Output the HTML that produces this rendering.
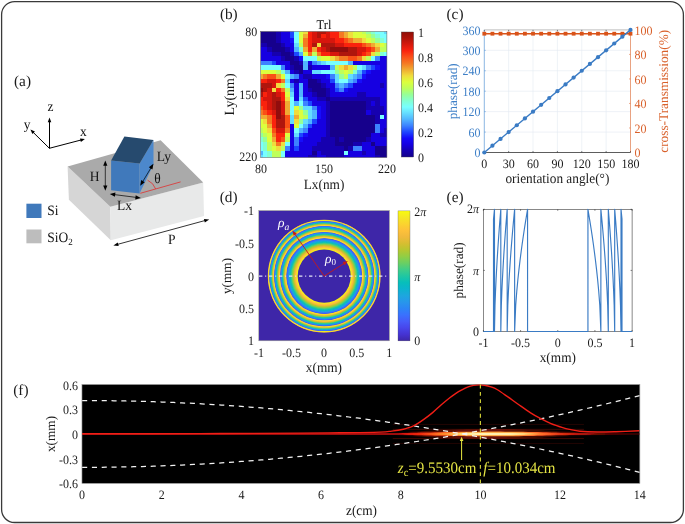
<!DOCTYPE html><html><head><meta charset="utf-8"><style>html,body{margin:0;padding:0;background:#fff;}svg{display:block;}</style></head><body>
<svg width="685" height="524" viewBox="0 0 685 524" font-family="'Liberation Serif', serif" text-rendering="geometricPrecision" style="will-change:transform">
<defs>
<clipPath id="hm"><rect x="260.7" y="31.5" width="126.20" height="126.10"/></clipPath>
<filter id="rblur" x="-5%" y="-5%" width="110%" height="110%"><feGaussianBlur stdDeviation="0.4"/></filter>
<filter id="hblur" x="-5%" y="-5%" width="110%" height="110%"><feGaussianBlur stdDeviation="0.45"/></filter>
<linearGradient id="jetg" x1="0" y1="1" x2="0" y2="0">
<stop offset="0.000" stop-color="#14008c"/>
<stop offset="0.050" stop-color="#1400af"/>
<stop offset="0.100" stop-color="#1400e1"/>
<stop offset="0.150" stop-color="#140afa"/>
<stop offset="0.200" stop-color="#1e46ff"/>
<stop offset="0.250" stop-color="#3c82ff"/>
<stop offset="0.300" stop-color="#50b4ff"/>
<stop offset="0.350" stop-color="#64dcff"/>
<stop offset="0.400" stop-color="#78ffff"/>
<stop offset="0.450" stop-color="#82ffd2"/>
<stop offset="0.500" stop-color="#96ff96"/>
<stop offset="0.550" stop-color="#beff5a"/>
<stop offset="0.600" stop-color="#dcff3c"/>
<stop offset="0.650" stop-color="#f0dc3c"/>
<stop offset="0.700" stop-color="#f0aa32"/>
<stop offset="0.750" stop-color="#f57823"/>
<stop offset="0.800" stop-color="#fa5019"/>
<stop offset="0.850" stop-color="#fa230f"/>
<stop offset="0.900" stop-color="#d7190c"/>
<stop offset="0.950" stop-color="#af140a"/>
<stop offset="1.000" stop-color="#910f08"/>
</linearGradient>
<linearGradient id="parg" x1="0" y1="1" x2="0" y2="0">
<stop offset="0.000" stop-color="#3e26a8"/>
<stop offset="0.025" stop-color="#412dbd"/>
<stop offset="0.050" stop-color="#4533d2"/>
<stop offset="0.075" stop-color="#463cde"/>
<stop offset="0.100" stop-color="#4846eb"/>
<stop offset="0.125" stop-color="#4750f2"/>
<stop offset="0.150" stop-color="#465bf9"/>
<stop offset="0.175" stop-color="#4066fb"/>
<stop offset="0.200" stop-color="#3a71fe"/>
<stop offset="0.225" stop-color="#337bfa"/>
<stop offset="0.250" stop-color="#2c85f5"/>
<stop offset="0.275" stop-color="#2a8ef0"/>
<stop offset="0.300" stop-color="#2797eb"/>
<stop offset="0.325" stop-color="#229fe5"/>
<stop offset="0.350" stop-color="#1da7de"/>
<stop offset="0.375" stop-color="#15add6"/>
<stop offset="0.400" stop-color="#0cb4ce"/>
<stop offset="0.425" stop-color="#09b9c4"/>
<stop offset="0.450" stop-color="#07bfba"/>
<stop offset="0.475" stop-color="#14c3ae"/>
<stop offset="0.500" stop-color="#21c7a1"/>
<stop offset="0.525" stop-color="#31ca94"/>
<stop offset="0.550" stop-color="#41cd87"/>
<stop offset="0.575" stop-color="#56ce75"/>
<stop offset="0.600" stop-color="#6bcf62"/>
<stop offset="0.625" stop-color="#7ecf53"/>
<stop offset="0.650" stop-color="#92ce44"/>
<stop offset="0.675" stop-color="#a4ca3a"/>
<stop offset="0.700" stop-color="#b7c730"/>
<stop offset="0.725" stop-color="#c7c230"/>
<stop offset="0.750" stop-color="#d7be31"/>
<stop offset="0.775" stop-color="#e4bc36"/>
<stop offset="0.800" stop-color="#f0b93c"/>
<stop offset="0.825" stop-color="#f7bd3b"/>
<stop offset="0.850" stop-color="#fec13a"/>
<stop offset="0.875" stop-color="#fcca34"/>
<stop offset="0.900" stop-color="#fbd42e"/>
<stop offset="0.925" stop-color="#f8dd2a"/>
<stop offset="0.950" stop-color="#f5e725"/>
<stop offset="0.975" stop-color="#f7f119"/>
<stop offset="1.000" stop-color="#f9fb0e"/>
</linearGradient>
<radialGradient id="ring" gradientUnits="userSpaceOnUse" cx="324.2" cy="276.1" r="56.4" fx="324.2" fy="276.1">
<stop offset="0.4706" stop-color="#3e26a8"/>
<stop offset="0.4711" stop-color="#f7ef1c"/>
<stop offset="0.5003" stop-color="#fdc537"/>
<stop offset="0.5283" stop-color="#d8be31"/>
<stop offset="0.5548" stop-color="#8dce48"/>
<stop offset="0.5802" stop-color="#38cb8f"/>
<stop offset="0.6044" stop-color="#09bac4"/>
<stop offset="0.6278" stop-color="#249ce7"/>
<stop offset="0.6502" stop-color="#3875fc"/>
<stop offset="0.6716" stop-color="#4846eb"/>
<stop offset="0.6723" stop-color="#f7ef1c"/>
<stop offset="0.6869" stop-color="#fdc537"/>
<stop offset="0.7016" stop-color="#d8be31"/>
<stop offset="0.7159" stop-color="#8dce48"/>
<stop offset="0.7300" stop-color="#38cb8f"/>
<stop offset="0.7438" stop-color="#09bac4"/>
<stop offset="0.7573" stop-color="#249ce7"/>
<stop offset="0.7706" stop-color="#3875fc"/>
<stop offset="0.7833" stop-color="#4846eb"/>
<stop offset="0.7840" stop-color="#f7ef1c"/>
<stop offset="0.7975" stop-color="#fdc537"/>
<stop offset="0.8111" stop-color="#d8be31"/>
<stop offset="0.8245" stop-color="#8dce48"/>
<stop offset="0.8376" stop-color="#38cb8f"/>
<stop offset="0.8506" stop-color="#09bac4"/>
<stop offset="0.8633" stop-color="#249ce7"/>
<stop offset="0.8759" stop-color="#3875fc"/>
<stop offset="0.8879" stop-color="#4846eb"/>
<stop offset="0.8887" stop-color="#f7ef1c"/>
<stop offset="0.8996" stop-color="#fdc537"/>
<stop offset="0.9108" stop-color="#d8be31"/>
<stop offset="0.9218" stop-color="#8dce48"/>
<stop offset="0.9327" stop-color="#38cb8f"/>
<stop offset="0.9435" stop-color="#09bac4"/>
<stop offset="0.9542" stop-color="#249ce7"/>
<stop offset="0.9647" stop-color="#3875fc"/>
<stop offset="0.9748" stop-color="#4846eb"/>
<stop offset="0.9761" stop-color="#f7f317"/>
<stop offset="1" stop-color="#fec13a"/>
</radialGradient>
<linearGradient id="beamcore" gradientUnits="userSpaceOnUse" x1="82.1" y1="0" x2="639.7" y2="0"><stop offset="0.0000" stop-color="#c00a0a" stop-opacity="1"/><stop offset="0.5701" stop-color="#d01010" stop-opacity="1"/><stop offset="0.6060" stop-color="#f02810" stop-opacity="1"/><stop offset="0.6508" stop-color="#ff5a1c" stop-opacity="1"/><stop offset="0.6957" stop-color="#ff8a30" stop-opacity="1"/><stop offset="0.7764" stop-color="#ff8a30" stop-opacity="1"/><stop offset="0.8302" stop-color="#ff5020" stop-opacity="1"/><stop offset="0.8840" stop-color="#c01808" stop-opacity="1"/><stop offset="0.9467" stop-color="#600606" stop-opacity="1"/><stop offset="1.0000" stop-color="#400000" stop-opacity="1"/></linearGradient>
<linearGradient id="beamglow" gradientUnits="userSpaceOnUse" x1="82.1" y1="0" x2="639.7" y2="0"><stop offset="0.5612" stop-color="#ff1000" stop-opacity="0.0"/><stop offset="0.6150" stop-color="#d01808" stop-opacity="0.35"/><stop offset="0.6777" stop-color="#e02810" stop-opacity="0.45"/><stop offset="0.7495" stop-color="#e02810" stop-opacity="0.45"/><stop offset="0.8302" stop-color="#b01808" stop-opacity="0.35"/><stop offset="0.8929" stop-color="#800808" stop-opacity="0.2"/><stop offset="0.9467" stop-color="#600000" stop-opacity="0.0"/></linearGradient>
<linearGradient id="beamglow2" gradientUnits="userSpaceOnUse" x1="82.1" y1="0" x2="639.7" y2="0"><stop offset="0.6060" stop-color="#ff5010" stop-opacity="0.0"/><stop offset="0.6419" stop-color="#ff8a28" stop-opacity="0.8"/><stop offset="0.6777" stop-color="#ffc048" stop-opacity="1"/><stop offset="0.7046" stop-color="#ffd870" stop-opacity="1"/><stop offset="0.7674" stop-color="#ffd060" stop-opacity="1"/><stop offset="0.8033" stop-color="#ffa040" stop-opacity="0.9"/><stop offset="0.8571" stop-color="#ff6020" stop-opacity="0.0"/></linearGradient>
<linearGradient id="beamglow3" gradientUnits="userSpaceOnUse" x1="82.1" y1="0" x2="639.7" y2="0"><stop offset="0.6508" stop-color="#ffe080" stop-opacity="0.0"/><stop offset="0.6867" stop-color="#fff0a0" stop-opacity="0.9"/><stop offset="0.7136" stop-color="#fffbd0" stop-opacity="1"/><stop offset="0.7674" stop-color="#fff6c0" stop-opacity="1"/><stop offset="0.7943" stop-color="#ffe890" stop-opacity="0.8"/><stop offset="0.8212" stop-color="#ffd060" stop-opacity="0.0"/></linearGradient>
<marker id="ah" viewBox="0 0 10 10" refX="9" refY="5" markerWidth="5" markerHeight="5" orient="auto-start-reverse"><path d="M0,1 L10,5 L0,9 z" fill="#000"/></marker>
<marker id="ahr" viewBox="0 0 10 10" refX="9" refY="5" markerWidth="5" markerHeight="5" orient="auto"><path d="M0,1 L10,5 L0,9 z" fill="#c01818"/></marker>
</defs>
<rect x="1.6" y="1.6" width="681.8" height="520.9" rx="13" ry="13" fill="#fff" stroke="#3a3a3a" stroke-width="1.3"/>
<text transform="translate(14.00,85.80) scale(1,1.0)" font-size="15.3" text-anchor="start" fill="#1a1a1a" >(a)</text>
<line x1="49.50" y1="148.30" x2="49.50" y2="121.28" stroke="#000" stroke-width="1.0"/>
<path d="M49.50,117.60 L51.30,122.20 L47.70,122.20 Z" fill="#000"/>
<line x1="49.30" y1="148.30" x2="81.34" y2="139.93" stroke="#000" stroke-width="1.0"/>
<path d="M84.90,139.00 L80.90,141.90 L79.99,138.42 Z" fill="#000"/>
<line x1="49.40" y1="148.30" x2="33.02" y2="132.18" stroke="#000" stroke-width="1.0"/>
<path d="M30.40,129.60 L34.94,131.54 L32.42,134.11 Z" fill="#000"/>
<text transform="translate(50.60,111.40) scale(1,1.06)" font-size="13.5" text-anchor="middle" fill="#111" >z</text>
<text transform="translate(83.30,135.60) scale(1,1.06)" font-size="13.5" text-anchor="middle" fill="#111" >x</text>
<text transform="translate(27.00,128.60) scale(1,1.06)" font-size="13.5" text-anchor="middle" fill="#111" >y</text>
<polygon points="67.6,166.6 110.3,206.7 110.8,240.2 68.9,199.7" fill="#d6d6d6"/>
<polygon points="110.3,206.7 203.2,182.5 204.0,216.0 110.8,240.2" fill="#e8e9e9"/>
<polygon points="67.6,166.6 160.6,140.3 203.2,182.5 110.3,206.7" fill="#aaaaaa"/>
<polygon points="111.1,160.5 139.6,163.6 139.6,193.4 111.1,190.3" fill="#4079bb"/>
<polygon points="139.6,163.6 153.5,140.1 153.5,164.4 139.6,193.4" fill="#4c88cc"/>
<polygon points="124.4,136.4 153.5,140.1 139.6,163.6 111.1,160.5" fill="#264a6e"/>
<line x1="105.30" y1="164.72" x2="105.30" y2="186.48" stroke="#000" stroke-width="0.7"/>
<path d="M105.30,190.80 L103.20,185.40 L107.40,185.40 Z" fill="#000"/>
<path d="M105.30,160.40 L103.20,165.80 L107.40,165.80 Z" fill="#000"/>
<line x1="114.08" y1="194.55" x2="136.52" y2="197.45" stroke="#000" stroke-width="0.7"/>
<path d="M140.80,198.00 L135.18,199.39 L135.71,195.23 Z" fill="#000"/>
<path d="M109.80,194.00 L114.89,196.77 L115.42,192.61 Z" fill="#000"/>
<line x1="142.42" y1="182.10" x2="151.18" y2="167.50" stroke="#000" stroke-width="0.7"/>
<path d="M153.40,163.80 L152.42,169.51 L148.82,167.35 Z" fill="#000"/>
<path d="M140.20,185.80 L144.78,182.25 L141.18,180.09 Z" fill="#000"/>
<line x1="117.26" y1="244.45" x2="205.34" y2="220.45" stroke="#000" stroke-width="0.8"/>
<path d="M209.20,219.40 L204.85,222.45 L203.90,218.98 Z" fill="#000"/>
<path d="M113.40,245.50 L118.70,245.92 L117.75,242.45 Z" fill="#000"/>
<line x1="140.3" y1="193.3" x2="180.6" y2="181.9" stroke="#e03030" stroke-width="0.8"/>
<path d="M147.6,180.2 A15.5,15.5 0 0 1 155.7,189.0" stroke="#e03030" stroke-width="0.8" fill="none"/>
<text transform="translate(94.60,181.30) scale(1,1.06)" font-size="13.5" text-anchor="middle" fill="#111" >H</text>
<text transform="translate(163.80,160.60) scale(1,1.06)" font-size="13.5" text-anchor="middle" fill="#111" >Ly</text>
<text transform="translate(157.60,183.20) scale(1,1.06)" font-size="13.5" text-anchor="middle" fill="#111" >θ</text>
<text transform="translate(124.50,210.20) scale(1,1.06)" font-size="13.5" text-anchor="middle" fill="#111" >Lx</text>
<text transform="translate(171.80,244.40) scale(1,1.06)" font-size="13.5" text-anchor="middle" fill="#111" >P</text>
<rect x="26.4" y="203.7" width="15.1" height="14.3" fill="#4079bb"/>
<rect x="26.4" y="229.5" width="15.1" height="13.8" fill="#bdbdbd"/>
<text transform="translate(47.30,214.80) scale(1,1.06)" font-size="13.5" text-anchor="start" fill="#111" >Si</text>
<text transform="translate(47.30,241.50) scale(1,1.06)" font-size="13.5" text-anchor="start" fill="#111" >SiO<tspan font-size="9" dy="3">2</tspan></text>
<text transform="translate(228.80,19.00) scale(1,1.0)" font-size="15.3" text-anchor="middle" fill="#1a1a1a" >(b)</text>
<text transform="translate(324.00,28.80) scale(1,1.06)" font-size="12.5" text-anchor="middle" fill="#111" >Trl</text>
<g clip-path="url(#hm)"><g filter="url(#hblur)" shape-rendering="crispEdges">
<rect x="258.45" y="29.25" width="4.50" height="4.50" fill="#14008c"/>
<rect x="262.95" y="29.25" width="4.50" height="4.50" fill="#14008c"/>
<rect x="267.45" y="29.25" width="4.50" height="4.50" fill="#14008c"/>
<rect x="271.95" y="29.25" width="4.50" height="4.50" fill="#14008c"/>
<rect x="276.45" y="29.25" width="4.50" height="4.50" fill="#1400af"/>
<rect x="280.95" y="29.25" width="4.50" height="4.50" fill="#1400e1"/>
<rect x="285.45" y="29.25" width="4.50" height="4.50" fill="#1400e1"/>
<rect x="289.95" y="29.25" width="4.50" height="4.50" fill="#1e46ff"/>
<rect x="294.45" y="29.25" width="4.50" height="4.50" fill="#78ffff"/>
<rect x="298.95" y="29.25" width="4.50" height="4.50" fill="#dcff3c"/>
<rect x="303.45" y="29.25" width="4.50" height="4.50" fill="#f0dc3c"/>
<rect x="307.95" y="29.25" width="4.50" height="4.50" fill="#fa230f"/>
<rect x="312.45" y="29.25" width="4.50" height="4.50" fill="#d7190c"/>
<rect x="316.95" y="29.25" width="4.50" height="4.50" fill="#af140a"/>
<rect x="321.45" y="29.25" width="4.50" height="4.50" fill="#af140a"/>
<rect x="325.95" y="29.25" width="4.50" height="4.50" fill="#d7190c"/>
<rect x="330.45" y="29.25" width="4.50" height="4.50" fill="#fa230f"/>
<rect x="334.95" y="29.25" width="4.50" height="4.50" fill="#fa230f"/>
<rect x="339.45" y="29.25" width="4.50" height="4.50" fill="#f57823"/>
<rect x="343.95" y="29.25" width="4.50" height="4.50" fill="#f0aa32"/>
<rect x="348.45" y="29.25" width="4.50" height="4.50" fill="#f0dc3c"/>
<rect x="352.95" y="29.25" width="4.50" height="4.50" fill="#dcff3c"/>
<rect x="357.45" y="29.25" width="4.50" height="4.50" fill="#dcff3c"/>
<rect x="361.95" y="29.25" width="4.50" height="4.50" fill="#beff5a"/>
<rect x="366.45" y="29.25" width="4.50" height="4.50" fill="#96ff96"/>
<rect x="370.95" y="29.25" width="4.50" height="4.50" fill="#82ffd2"/>
<rect x="375.45" y="29.25" width="4.50" height="4.50" fill="#78ffff"/>
<rect x="379.95" y="29.25" width="4.50" height="4.50" fill="#78ffff"/>
<rect x="384.45" y="29.25" width="4.50" height="4.50" fill="#64dcff"/>
<rect x="258.45" y="33.75" width="4.50" height="4.50" fill="#14008c"/>
<rect x="262.95" y="33.75" width="4.50" height="4.50" fill="#14008c"/>
<rect x="267.45" y="33.75" width="4.50" height="4.50" fill="#14008c"/>
<rect x="271.95" y="33.75" width="4.50" height="4.50" fill="#14008c"/>
<rect x="276.45" y="33.75" width="4.50" height="4.50" fill="#1400af"/>
<rect x="280.95" y="33.75" width="4.50" height="4.50" fill="#1400e1"/>
<rect x="285.45" y="33.75" width="4.50" height="4.50" fill="#1400e1"/>
<rect x="289.95" y="33.75" width="4.50" height="4.50" fill="#1e46ff"/>
<rect x="294.45" y="33.75" width="4.50" height="4.50" fill="#78ffff"/>
<rect x="298.95" y="33.75" width="4.50" height="4.50" fill="#dcff3c"/>
<rect x="303.45" y="33.75" width="4.50" height="4.50" fill="#f0aa32"/>
<rect x="307.95" y="33.75" width="4.50" height="4.50" fill="#fa230f"/>
<rect x="312.45" y="33.75" width="4.50" height="4.50" fill="#d7190c"/>
<rect x="316.95" y="33.75" width="4.50" height="4.50" fill="#af140a"/>
<rect x="321.45" y="33.75" width="4.50" height="4.50" fill="#fa230f"/>
<rect x="325.95" y="33.75" width="4.50" height="4.50" fill="#d7190c"/>
<rect x="330.45" y="33.75" width="4.50" height="4.50" fill="#fa230f"/>
<rect x="334.95" y="33.75" width="4.50" height="4.50" fill="#fa230f"/>
<rect x="339.45" y="33.75" width="4.50" height="4.50" fill="#f57823"/>
<rect x="343.95" y="33.75" width="4.50" height="4.50" fill="#f0aa32"/>
<rect x="348.45" y="33.75" width="4.50" height="4.50" fill="#f0dc3c"/>
<rect x="352.95" y="33.75" width="4.50" height="4.50" fill="#dcff3c"/>
<rect x="357.45" y="33.75" width="4.50" height="4.50" fill="#dcff3c"/>
<rect x="361.95" y="33.75" width="4.50" height="4.50" fill="#dcff3c"/>
<rect x="366.45" y="33.75" width="4.50" height="4.50" fill="#beff5a"/>
<rect x="370.95" y="33.75" width="4.50" height="4.50" fill="#96ff96"/>
<rect x="375.45" y="33.75" width="4.50" height="4.50" fill="#82ffd2"/>
<rect x="379.95" y="33.75" width="4.50" height="4.50" fill="#78ffff"/>
<rect x="384.45" y="33.75" width="4.50" height="4.50" fill="#78ffff"/>
<rect x="258.45" y="38.25" width="4.50" height="4.50" fill="#14008c"/>
<rect x="262.95" y="38.25" width="4.50" height="4.50" fill="#14008c"/>
<rect x="267.45" y="38.25" width="4.50" height="4.50" fill="#14008c"/>
<rect x="271.95" y="38.25" width="4.50" height="4.50" fill="#14008c"/>
<rect x="276.45" y="38.25" width="4.50" height="4.50" fill="#1400af"/>
<rect x="280.95" y="38.25" width="4.50" height="4.50" fill="#1400e1"/>
<rect x="285.45" y="38.25" width="4.50" height="4.50" fill="#1400e1"/>
<rect x="289.95" y="38.25" width="4.50" height="4.50" fill="#140afa"/>
<rect x="294.45" y="38.25" width="4.50" height="4.50" fill="#78ffff"/>
<rect x="298.95" y="38.25" width="4.50" height="4.50" fill="#dcff3c"/>
<rect x="303.45" y="38.25" width="4.50" height="4.50" fill="#f57823"/>
<rect x="307.95" y="38.25" width="4.50" height="4.50" fill="#fa230f"/>
<rect x="312.45" y="38.25" width="4.50" height="4.50" fill="#d7190c"/>
<rect x="316.95" y="38.25" width="4.50" height="4.50" fill="#d7190c"/>
<rect x="321.45" y="38.25" width="4.50" height="4.50" fill="#d7190c"/>
<rect x="325.95" y="38.25" width="4.50" height="4.50" fill="#d7190c"/>
<rect x="330.45" y="38.25" width="4.50" height="4.50" fill="#d7190c"/>
<rect x="334.95" y="38.25" width="4.50" height="4.50" fill="#fa230f"/>
<rect x="339.45" y="38.25" width="4.50" height="4.50" fill="#fa230f"/>
<rect x="343.95" y="38.25" width="4.50" height="4.50" fill="#fa5019"/>
<rect x="348.45" y="38.25" width="4.50" height="4.50" fill="#f57823"/>
<rect x="352.95" y="38.25" width="4.50" height="4.50" fill="#f0aa32"/>
<rect x="357.45" y="38.25" width="4.50" height="4.50" fill="#f0aa32"/>
<rect x="361.95" y="38.25" width="4.50" height="4.50" fill="#f0dc3c"/>
<rect x="366.45" y="38.25" width="4.50" height="4.50" fill="#dcff3c"/>
<rect x="370.95" y="38.25" width="4.50" height="4.50" fill="#beff5a"/>
<rect x="375.45" y="38.25" width="4.50" height="4.50" fill="#96ff96"/>
<rect x="379.95" y="38.25" width="4.50" height="4.50" fill="#82ffd2"/>
<rect x="384.45" y="38.25" width="4.50" height="4.50" fill="#78ffff"/>
<rect x="258.45" y="42.75" width="4.50" height="4.50" fill="#1400af"/>
<rect x="262.95" y="42.75" width="4.50" height="4.50" fill="#1400af"/>
<rect x="267.45" y="42.75" width="4.50" height="4.50" fill="#14008c"/>
<rect x="271.95" y="42.75" width="4.50" height="4.50" fill="#14008c"/>
<rect x="276.45" y="42.75" width="4.50" height="4.50" fill="#14008c"/>
<rect x="280.95" y="42.75" width="4.50" height="4.50" fill="#1400af"/>
<rect x="285.45" y="42.75" width="4.50" height="4.50" fill="#1400e1"/>
<rect x="289.95" y="42.75" width="4.50" height="4.50" fill="#1400e1"/>
<rect x="294.45" y="42.75" width="4.50" height="4.50" fill="#64dcff"/>
<rect x="298.95" y="42.75" width="4.50" height="4.50" fill="#beff5a"/>
<rect x="303.45" y="42.75" width="4.50" height="4.50" fill="#f57823"/>
<rect x="307.95" y="42.75" width="4.50" height="4.50" fill="#fa230f"/>
<rect x="312.45" y="42.75" width="4.50" height="4.50" fill="#af140a"/>
<rect x="316.95" y="42.75" width="4.50" height="4.50" fill="#f0dc3c"/>
<rect x="321.45" y="42.75" width="4.50" height="4.50" fill="#af140a"/>
<rect x="325.95" y="42.75" width="4.50" height="4.50" fill="#af140a"/>
<rect x="330.45" y="42.75" width="4.50" height="4.50" fill="#af140a"/>
<rect x="334.95" y="42.75" width="4.50" height="4.50" fill="#d7190c"/>
<rect x="339.45" y="42.75" width="4.50" height="4.50" fill="#d7190c"/>
<rect x="343.95" y="42.75" width="4.50" height="4.50" fill="#fa230f"/>
<rect x="348.45" y="42.75" width="4.50" height="4.50" fill="#fa230f"/>
<rect x="352.95" y="42.75" width="4.50" height="4.50" fill="#fa230f"/>
<rect x="357.45" y="42.75" width="4.50" height="4.50" fill="#fa230f"/>
<rect x="361.95" y="42.75" width="4.50" height="4.50" fill="#fa5019"/>
<rect x="366.45" y="42.75" width="4.50" height="4.50" fill="#f57823"/>
<rect x="370.95" y="42.75" width="4.50" height="4.50" fill="#f0aa32"/>
<rect x="375.45" y="42.75" width="4.50" height="4.50" fill="#f0dc3c"/>
<rect x="379.95" y="42.75" width="4.50" height="4.50" fill="#dcff3c"/>
<rect x="384.45" y="42.75" width="4.50" height="4.50" fill="#beff5a"/>
<rect x="258.45" y="47.25" width="4.50" height="4.50" fill="#1400e1"/>
<rect x="262.95" y="47.25" width="4.50" height="4.50" fill="#1400e1"/>
<rect x="267.45" y="47.25" width="4.50" height="4.50" fill="#1400af"/>
<rect x="271.95" y="47.25" width="4.50" height="4.50" fill="#14008c"/>
<rect x="276.45" y="47.25" width="4.50" height="4.50" fill="#14008c"/>
<rect x="280.95" y="47.25" width="4.50" height="4.50" fill="#14008c"/>
<rect x="285.45" y="47.25" width="4.50" height="4.50" fill="#1400af"/>
<rect x="289.95" y="47.25" width="4.50" height="4.50" fill="#1400e1"/>
<rect x="294.45" y="47.25" width="4.50" height="4.50" fill="#50b4ff"/>
<rect x="298.95" y="47.25" width="4.50" height="4.50" fill="#82ffd2"/>
<rect x="303.45" y="47.25" width="4.50" height="4.50" fill="#f0aa32"/>
<rect x="307.95" y="47.25" width="4.50" height="4.50" fill="#fa230f"/>
<rect x="312.45" y="47.25" width="4.50" height="4.50" fill="#f0aa32"/>
<rect x="316.95" y="47.25" width="4.50" height="4.50" fill="#fa230f"/>
<rect x="321.45" y="47.25" width="4.50" height="4.50" fill="#d7190c"/>
<rect x="325.95" y="47.25" width="4.50" height="4.50" fill="#af140a"/>
<rect x="330.45" y="47.25" width="4.50" height="4.50" fill="#910f08"/>
<rect x="334.95" y="47.25" width="4.50" height="4.50" fill="#910f08"/>
<rect x="339.45" y="47.25" width="4.50" height="4.50" fill="#910f08"/>
<rect x="343.95" y="47.25" width="4.50" height="4.50" fill="#910f08"/>
<rect x="348.45" y="47.25" width="4.50" height="4.50" fill="#af140a"/>
<rect x="352.95" y="47.25" width="4.50" height="4.50" fill="#af140a"/>
<rect x="357.45" y="47.25" width="4.50" height="4.50" fill="#d7190c"/>
<rect x="361.95" y="47.25" width="4.50" height="4.50" fill="#d7190c"/>
<rect x="366.45" y="47.25" width="4.50" height="4.50" fill="#fa230f"/>
<rect x="370.95" y="47.25" width="4.50" height="4.50" fill="#fa5019"/>
<rect x="375.45" y="47.25" width="4.50" height="4.50" fill="#f0aa32"/>
<rect x="379.95" y="47.25" width="4.50" height="4.50" fill="#beff5a"/>
<rect x="384.45" y="47.25" width="4.50" height="4.50" fill="#beff5a"/>
<rect x="258.45" y="51.75" width="4.50" height="4.50" fill="#1400e1"/>
<rect x="262.95" y="51.75" width="4.50" height="4.50" fill="#1400e1"/>
<rect x="267.45" y="51.75" width="4.50" height="4.50" fill="#1400e1"/>
<rect x="271.95" y="51.75" width="4.50" height="4.50" fill="#1400af"/>
<rect x="276.45" y="51.75" width="4.50" height="4.50" fill="#1400af"/>
<rect x="280.95" y="51.75" width="4.50" height="4.50" fill="#14008c"/>
<rect x="285.45" y="51.75" width="4.50" height="4.50" fill="#14008c"/>
<rect x="289.95" y="51.75" width="4.50" height="4.50" fill="#1400af"/>
<rect x="294.45" y="51.75" width="4.50" height="4.50" fill="#1e46ff"/>
<rect x="298.95" y="51.75" width="4.50" height="4.50" fill="#50b4ff"/>
<rect x="303.45" y="51.75" width="4.50" height="4.50" fill="#dcff3c"/>
<rect x="307.95" y="51.75" width="4.50" height="4.50" fill="#f57823"/>
<rect x="312.45" y="51.75" width="4.50" height="4.50" fill="#beff5a"/>
<rect x="316.95" y="51.75" width="4.50" height="4.50" fill="#f57823"/>
<rect x="321.45" y="51.75" width="4.50" height="4.50" fill="#fa230f"/>
<rect x="325.95" y="51.75" width="4.50" height="4.50" fill="#fa230f"/>
<rect x="330.45" y="51.75" width="4.50" height="4.50" fill="#d7190c"/>
<rect x="334.95" y="51.75" width="4.50" height="4.50" fill="#d7190c"/>
<rect x="339.45" y="51.75" width="4.50" height="4.50" fill="#af140a"/>
<rect x="343.95" y="51.75" width="4.50" height="4.50" fill="#af140a"/>
<rect x="348.45" y="51.75" width="4.50" height="4.50" fill="#af140a"/>
<rect x="352.95" y="51.75" width="4.50" height="4.50" fill="#af140a"/>
<rect x="357.45" y="51.75" width="4.50" height="4.50" fill="#d7190c"/>
<rect x="361.95" y="51.75" width="4.50" height="4.50" fill="#fa230f"/>
<rect x="366.45" y="51.75" width="4.50" height="4.50" fill="#fa5019"/>
<rect x="370.95" y="51.75" width="4.50" height="4.50" fill="#f0dc3c"/>
<rect x="375.45" y="51.75" width="4.50" height="4.50" fill="#beff5a"/>
<rect x="379.95" y="51.75" width="4.50" height="4.50" fill="#82ffd2"/>
<rect x="384.45" y="51.75" width="4.50" height="4.50" fill="#78ffff"/>
<rect x="258.45" y="56.25" width="4.50" height="4.50" fill="#1400e1"/>
<rect x="262.95" y="56.25" width="4.50" height="4.50" fill="#1400e1"/>
<rect x="267.45" y="56.25" width="4.50" height="4.50" fill="#1400e1"/>
<rect x="271.95" y="56.25" width="4.50" height="4.50" fill="#1400e1"/>
<rect x="276.45" y="56.25" width="4.50" height="4.50" fill="#1400e1"/>
<rect x="280.95" y="56.25" width="4.50" height="4.50" fill="#1400af"/>
<rect x="285.45" y="56.25" width="4.50" height="4.50" fill="#14008c"/>
<rect x="289.95" y="56.25" width="4.50" height="4.50" fill="#14008c"/>
<rect x="294.45" y="56.25" width="4.50" height="4.50" fill="#1400af"/>
<rect x="298.95" y="56.25" width="4.50" height="4.50" fill="#140afa"/>
<rect x="303.45" y="56.25" width="4.50" height="4.50" fill="#78ffff"/>
<rect x="307.95" y="56.25" width="4.50" height="4.50" fill="#78ffff"/>
<rect x="312.45" y="56.25" width="4.50" height="4.50" fill="#78ffff"/>
<rect x="316.95" y="56.25" width="4.50" height="4.50" fill="#beff5a"/>
<rect x="321.45" y="56.25" width="4.50" height="4.50" fill="#dcff3c"/>
<rect x="325.95" y="56.25" width="4.50" height="4.50" fill="#dcff3c"/>
<rect x="330.45" y="56.25" width="4.50" height="4.50" fill="#f0dc3c"/>
<rect x="334.95" y="56.25" width="4.50" height="4.50" fill="#f0aa32"/>
<rect x="339.45" y="56.25" width="4.50" height="4.50" fill="#f57823"/>
<rect x="343.95" y="56.25" width="4.50" height="4.50" fill="#f57823"/>
<rect x="348.45" y="56.25" width="4.50" height="4.50" fill="#fa5019"/>
<rect x="352.95" y="56.25" width="4.50" height="4.50" fill="#fa5019"/>
<rect x="357.45" y="56.25" width="4.50" height="4.50" fill="#f57823"/>
<rect x="361.95" y="56.25" width="4.50" height="4.50" fill="#f0dc3c"/>
<rect x="366.45" y="56.25" width="4.50" height="4.50" fill="#beff5a"/>
<rect x="370.95" y="56.25" width="4.50" height="4.50" fill="#78ffff"/>
<rect x="375.45" y="56.25" width="4.50" height="4.50" fill="#3c82ff"/>
<rect x="379.95" y="56.25" width="4.50" height="4.50" fill="#1400e1"/>
<rect x="384.45" y="56.25" width="4.50" height="4.50" fill="#1400e1"/>
<rect x="258.45" y="60.75" width="4.50" height="4.50" fill="#3c82ff"/>
<rect x="262.95" y="60.75" width="4.50" height="4.50" fill="#3c82ff"/>
<rect x="267.45" y="60.75" width="4.50" height="4.50" fill="#3c82ff"/>
<rect x="271.95" y="60.75" width="4.50" height="4.50" fill="#1e46ff"/>
<rect x="276.45" y="60.75" width="4.50" height="4.50" fill="#1400e1"/>
<rect x="280.95" y="60.75" width="4.50" height="4.50" fill="#1400e1"/>
<rect x="285.45" y="60.75" width="4.50" height="4.50" fill="#1400e1"/>
<rect x="289.95" y="60.75" width="4.50" height="4.50" fill="#14008c"/>
<rect x="294.45" y="60.75" width="4.50" height="4.50" fill="#14008c"/>
<rect x="298.95" y="60.75" width="4.50" height="4.50" fill="#1400af"/>
<rect x="303.45" y="60.75" width="4.50" height="4.50" fill="#50b4ff"/>
<rect x="307.95" y="60.75" width="4.50" height="4.50" fill="#1400e1"/>
<rect x="312.45" y="60.75" width="4.50" height="4.50" fill="#3c82ff"/>
<rect x="316.95" y="60.75" width="4.50" height="4.50" fill="#50b4ff"/>
<rect x="321.45" y="60.75" width="4.50" height="4.50" fill="#64dcff"/>
<rect x="325.95" y="60.75" width="4.50" height="4.50" fill="#78ffff"/>
<rect x="330.45" y="60.75" width="4.50" height="4.50" fill="#78ffff"/>
<rect x="334.95" y="60.75" width="4.50" height="4.50" fill="#78ffff"/>
<rect x="339.45" y="60.75" width="4.50" height="4.50" fill="#78ffff"/>
<rect x="343.95" y="60.75" width="4.50" height="4.50" fill="#78ffff"/>
<rect x="348.45" y="60.75" width="4.50" height="4.50" fill="#50b4ff"/>
<rect x="352.95" y="60.75" width="4.50" height="4.50" fill="#1400e1"/>
<rect x="357.45" y="60.75" width="4.50" height="4.50" fill="#1400e1"/>
<rect x="361.95" y="60.75" width="4.50" height="4.50" fill="#1400e1"/>
<rect x="366.45" y="60.75" width="4.50" height="4.50" fill="#1400e1"/>
<rect x="370.95" y="60.75" width="4.50" height="4.50" fill="#1400e1"/>
<rect x="375.45" y="60.75" width="4.50" height="4.50" fill="#1400e1"/>
<rect x="379.95" y="60.75" width="4.50" height="4.50" fill="#1400e1"/>
<rect x="384.45" y="60.75" width="4.50" height="4.50" fill="#1400e1"/>
<rect x="258.45" y="65.25" width="4.50" height="4.50" fill="#78ffff"/>
<rect x="262.95" y="65.25" width="4.50" height="4.50" fill="#78ffff"/>
<rect x="267.45" y="65.25" width="4.50" height="4.50" fill="#78ffff"/>
<rect x="271.95" y="65.25" width="4.50" height="4.50" fill="#78ffff"/>
<rect x="276.45" y="65.25" width="4.50" height="4.50" fill="#78ffff"/>
<rect x="280.95" y="65.25" width="4.50" height="4.50" fill="#3c82ff"/>
<rect x="285.45" y="65.25" width="4.50" height="4.50" fill="#1400e1"/>
<rect x="289.95" y="65.25" width="4.50" height="4.50" fill="#1400af"/>
<rect x="294.45" y="65.25" width="4.50" height="4.50" fill="#14008c"/>
<rect x="298.95" y="65.25" width="4.50" height="4.50" fill="#14008c"/>
<rect x="303.45" y="65.25" width="4.50" height="4.50" fill="#50b4ff"/>
<rect x="307.95" y="65.25" width="4.50" height="4.50" fill="#1400af"/>
<rect x="312.45" y="65.25" width="4.50" height="4.50" fill="#1400e1"/>
<rect x="316.95" y="65.25" width="4.50" height="4.50" fill="#1400e1"/>
<rect x="321.45" y="65.25" width="4.50" height="4.50" fill="#1400e1"/>
<rect x="325.95" y="65.25" width="4.50" height="4.50" fill="#1400e1"/>
<rect x="330.45" y="65.25" width="4.50" height="4.50" fill="#50b4ff"/>
<rect x="334.95" y="65.25" width="4.50" height="4.50" fill="#beff5a"/>
<rect x="339.45" y="65.25" width="4.50" height="4.50" fill="#f0dc3c"/>
<rect x="343.95" y="65.25" width="4.50" height="4.50" fill="#f0aa32"/>
<rect x="348.45" y="65.25" width="4.50" height="4.50" fill="#f0dc3c"/>
<rect x="352.95" y="65.25" width="4.50" height="4.50" fill="#beff5a"/>
<rect x="357.45" y="65.25" width="4.50" height="4.50" fill="#78ffff"/>
<rect x="361.95" y="65.25" width="4.50" height="4.50" fill="#64dcff"/>
<rect x="366.45" y="65.25" width="4.50" height="4.50" fill="#3c82ff"/>
<rect x="370.95" y="65.25" width="4.50" height="4.50" fill="#1e46ff"/>
<rect x="375.45" y="65.25" width="4.50" height="4.50" fill="#140afa"/>
<rect x="379.95" y="65.25" width="4.50" height="4.50" fill="#1400e1"/>
<rect x="384.45" y="65.25" width="4.50" height="4.50" fill="#1400e1"/>
<rect x="258.45" y="69.75" width="4.50" height="4.50" fill="#dcff3c"/>
<rect x="262.95" y="69.75" width="4.50" height="4.50" fill="#dcff3c"/>
<rect x="267.45" y="69.75" width="4.50" height="4.50" fill="#dcff3c"/>
<rect x="271.95" y="69.75" width="4.50" height="4.50" fill="#dcff3c"/>
<rect x="276.45" y="69.75" width="4.50" height="4.50" fill="#beff5a"/>
<rect x="280.95" y="69.75" width="4.50" height="4.50" fill="#82ffd2"/>
<rect x="285.45" y="69.75" width="4.50" height="4.50" fill="#50b4ff"/>
<rect x="289.95" y="69.75" width="4.50" height="4.50" fill="#1400e1"/>
<rect x="294.45" y="69.75" width="4.50" height="4.50" fill="#1400af"/>
<rect x="298.95" y="69.75" width="4.50" height="4.50" fill="#14008c"/>
<rect x="303.45" y="69.75" width="4.50" height="4.50" fill="#1400e1"/>
<rect x="307.95" y="69.75" width="4.50" height="4.50" fill="#1400e1"/>
<rect x="312.45" y="69.75" width="4.50" height="4.50" fill="#64dcff"/>
<rect x="316.95" y="69.75" width="4.50" height="4.50" fill="#64dcff"/>
<rect x="321.45" y="69.75" width="4.50" height="4.50" fill="#78ffff"/>
<rect x="325.95" y="69.75" width="4.50" height="4.50" fill="#78ffff"/>
<rect x="330.45" y="69.75" width="4.50" height="4.50" fill="#78ffff"/>
<rect x="334.95" y="69.75" width="4.50" height="4.50" fill="#96ff96"/>
<rect x="339.45" y="69.75" width="4.50" height="4.50" fill="#beff5a"/>
<rect x="343.95" y="69.75" width="4.50" height="4.50" fill="#dcff3c"/>
<rect x="348.45" y="69.75" width="4.50" height="4.50" fill="#beff5a"/>
<rect x="352.95" y="69.75" width="4.50" height="4.50" fill="#82ffd2"/>
<rect x="357.45" y="69.75" width="4.50" height="4.50" fill="#50b4ff"/>
<rect x="361.95" y="69.75" width="4.50" height="4.50" fill="#1e46ff"/>
<rect x="366.45" y="69.75" width="4.50" height="4.50" fill="#140afa"/>
<rect x="370.95" y="69.75" width="4.50" height="4.50" fill="#1400e1"/>
<rect x="375.45" y="69.75" width="4.50" height="4.50" fill="#1400e1"/>
<rect x="379.95" y="69.75" width="4.50" height="4.50" fill="#1400e1"/>
<rect x="384.45" y="69.75" width="4.50" height="4.50" fill="#1400e1"/>
<rect x="258.45" y="74.25" width="4.50" height="4.50" fill="#f0aa32"/>
<rect x="262.95" y="74.25" width="4.50" height="4.50" fill="#f57823"/>
<rect x="267.45" y="74.25" width="4.50" height="4.50" fill="#fa5019"/>
<rect x="271.95" y="74.25" width="4.50" height="4.50" fill="#fa5019"/>
<rect x="276.45" y="74.25" width="4.50" height="4.50" fill="#f0aa32"/>
<rect x="280.95" y="74.25" width="4.50" height="4.50" fill="#dcff3c"/>
<rect x="285.45" y="74.25" width="4.50" height="4.50" fill="#78ffff"/>
<rect x="289.95" y="74.25" width="4.50" height="4.50" fill="#50b4ff"/>
<rect x="294.45" y="74.25" width="4.50" height="4.50" fill="#3c82ff"/>
<rect x="298.95" y="74.25" width="4.50" height="4.50" fill="#1400e1"/>
<rect x="303.45" y="74.25" width="4.50" height="4.50" fill="#1400af"/>
<rect x="307.95" y="74.25" width="4.50" height="4.50" fill="#1400af"/>
<rect x="312.45" y="74.25" width="4.50" height="4.50" fill="#1400e1"/>
<rect x="316.95" y="74.25" width="4.50" height="4.50" fill="#1400e1"/>
<rect x="321.45" y="74.25" width="4.50" height="4.50" fill="#1400e1"/>
<rect x="325.95" y="74.25" width="4.50" height="4.50" fill="#140afa"/>
<rect x="330.45" y="74.25" width="4.50" height="4.50" fill="#3c82ff"/>
<rect x="334.95" y="74.25" width="4.50" height="4.50" fill="#64dcff"/>
<rect x="339.45" y="74.25" width="4.50" height="4.50" fill="#96ff96"/>
<rect x="343.95" y="74.25" width="4.50" height="4.50" fill="#beff5a"/>
<rect x="348.45" y="74.25" width="4.50" height="4.50" fill="#64dcff"/>
<rect x="352.95" y="74.25" width="4.50" height="4.50" fill="#50b4ff"/>
<rect x="357.45" y="74.25" width="4.50" height="4.50" fill="#3c82ff"/>
<rect x="361.95" y="74.25" width="4.50" height="4.50" fill="#140afa"/>
<rect x="366.45" y="74.25" width="4.50" height="4.50" fill="#1400e1"/>
<rect x="370.95" y="74.25" width="4.50" height="4.50" fill="#1400e1"/>
<rect x="375.45" y="74.25" width="4.50" height="4.50" fill="#1400e1"/>
<rect x="379.95" y="74.25" width="4.50" height="4.50" fill="#1400e1"/>
<rect x="384.45" y="74.25" width="4.50" height="4.50" fill="#1400e1"/>
<rect x="258.45" y="78.75" width="4.50" height="4.50" fill="#fa230f"/>
<rect x="262.95" y="78.75" width="4.50" height="4.50" fill="#fa230f"/>
<rect x="267.45" y="78.75" width="4.50" height="4.50" fill="#d7190c"/>
<rect x="271.95" y="78.75" width="4.50" height="4.50" fill="#d7190c"/>
<rect x="276.45" y="78.75" width="4.50" height="4.50" fill="#fa230f"/>
<rect x="280.95" y="78.75" width="4.50" height="4.50" fill="#f57823"/>
<rect x="285.45" y="78.75" width="4.50" height="4.50" fill="#64dcff"/>
<rect x="289.95" y="78.75" width="4.50" height="4.50" fill="#1400e1"/>
<rect x="294.45" y="78.75" width="4.50" height="4.50" fill="#1400af"/>
<rect x="298.95" y="78.75" width="4.50" height="4.50" fill="#1400e1"/>
<rect x="303.45" y="78.75" width="4.50" height="4.50" fill="#1400e1"/>
<rect x="307.95" y="78.75" width="4.50" height="4.50" fill="#14008c"/>
<rect x="312.45" y="78.75" width="4.50" height="4.50" fill="#14008c"/>
<rect x="316.95" y="78.75" width="4.50" height="4.50" fill="#1400af"/>
<rect x="321.45" y="78.75" width="4.50" height="4.50" fill="#1400e1"/>
<rect x="325.95" y="78.75" width="4.50" height="4.50" fill="#1400e1"/>
<rect x="330.45" y="78.75" width="4.50" height="4.50" fill="#1e46ff"/>
<rect x="334.95" y="78.75" width="4.50" height="4.50" fill="#64dcff"/>
<rect x="339.45" y="78.75" width="4.50" height="4.50" fill="#78ffff"/>
<rect x="343.95" y="78.75" width="4.50" height="4.50" fill="#78ffff"/>
<rect x="348.45" y="78.75" width="4.50" height="4.50" fill="#50b4ff"/>
<rect x="352.95" y="78.75" width="4.50" height="4.50" fill="#3c82ff"/>
<rect x="357.45" y="78.75" width="4.50" height="4.50" fill="#140afa"/>
<rect x="361.95" y="78.75" width="4.50" height="4.50" fill="#1400e1"/>
<rect x="366.45" y="78.75" width="4.50" height="4.50" fill="#1400e1"/>
<rect x="370.95" y="78.75" width="4.50" height="4.50" fill="#1400e1"/>
<rect x="375.45" y="78.75" width="4.50" height="4.50" fill="#1400e1"/>
<rect x="379.95" y="78.75" width="4.50" height="4.50" fill="#1400e1"/>
<rect x="384.45" y="78.75" width="4.50" height="4.50" fill="#1400e1"/>
<rect x="258.45" y="83.25" width="4.50" height="4.50" fill="#af140a"/>
<rect x="262.95" y="83.25" width="4.50" height="4.50" fill="#af140a"/>
<rect x="267.45" y="83.25" width="4.50" height="4.50" fill="#af140a"/>
<rect x="271.95" y="83.25" width="4.50" height="4.50" fill="#d7190c"/>
<rect x="276.45" y="83.25" width="4.50" height="4.50" fill="#f0dc3c"/>
<rect x="280.95" y="83.25" width="4.50" height="4.50" fill="#beff5a"/>
<rect x="285.45" y="83.25" width="4.50" height="4.50" fill="#78ffff"/>
<rect x="289.95" y="83.25" width="4.50" height="4.50" fill="#3c82ff"/>
<rect x="294.45" y="83.25" width="4.50" height="4.50" fill="#1400e1"/>
<rect x="298.95" y="83.25" width="4.50" height="4.50" fill="#50b4ff"/>
<rect x="303.45" y="83.25" width="4.50" height="4.50" fill="#1400e1"/>
<rect x="307.95" y="83.25" width="4.50" height="4.50" fill="#14008c"/>
<rect x="312.45" y="83.25" width="4.50" height="4.50" fill="#14008c"/>
<rect x="316.95" y="83.25" width="4.50" height="4.50" fill="#14008c"/>
<rect x="321.45" y="83.25" width="4.50" height="4.50" fill="#1400af"/>
<rect x="325.95" y="83.25" width="4.50" height="4.50" fill="#1400e1"/>
<rect x="330.45" y="83.25" width="4.50" height="4.50" fill="#1400e1"/>
<rect x="334.95" y="83.25" width="4.50" height="4.50" fill="#3c82ff"/>
<rect x="339.45" y="83.25" width="4.50" height="4.50" fill="#50b4ff"/>
<rect x="343.95" y="83.25" width="4.50" height="4.50" fill="#3c82ff"/>
<rect x="348.45" y="83.25" width="4.50" height="4.50" fill="#1e46ff"/>
<rect x="352.95" y="83.25" width="4.50" height="4.50" fill="#1400e1"/>
<rect x="357.45" y="83.25" width="4.50" height="4.50" fill="#1400e1"/>
<rect x="361.95" y="83.25" width="4.50" height="4.50" fill="#1400e1"/>
<rect x="366.45" y="83.25" width="4.50" height="4.50" fill="#1400e1"/>
<rect x="370.95" y="83.25" width="4.50" height="4.50" fill="#1400e1"/>
<rect x="375.45" y="83.25" width="4.50" height="4.50" fill="#1400e1"/>
<rect x="379.95" y="83.25" width="4.50" height="4.50" fill="#1400af"/>
<rect x="384.45" y="83.25" width="4.50" height="4.50" fill="#1400e1"/>
<rect x="258.45" y="87.75" width="4.50" height="4.50" fill="#910f08"/>
<rect x="262.95" y="87.75" width="4.50" height="4.50" fill="#af140a"/>
<rect x="267.45" y="87.75" width="4.50" height="4.50" fill="#d7190c"/>
<rect x="271.95" y="87.75" width="4.50" height="4.50" fill="#f0dc3c"/>
<rect x="276.45" y="87.75" width="4.50" height="4.50" fill="#fa230f"/>
<rect x="280.95" y="87.75" width="4.50" height="4.50" fill="#f57823"/>
<rect x="285.45" y="87.75" width="4.50" height="4.50" fill="#beff5a"/>
<rect x="289.95" y="87.75" width="4.50" height="4.50" fill="#50b4ff"/>
<rect x="294.45" y="87.75" width="4.50" height="4.50" fill="#1400e1"/>
<rect x="298.95" y="87.75" width="4.50" height="4.50" fill="#50b4ff"/>
<rect x="303.45" y="87.75" width="4.50" height="4.50" fill="#1400e1"/>
<rect x="307.95" y="87.75" width="4.50" height="4.50" fill="#1400af"/>
<rect x="312.45" y="87.75" width="4.50" height="4.50" fill="#14008c"/>
<rect x="316.95" y="87.75" width="4.50" height="4.50" fill="#14008c"/>
<rect x="321.45" y="87.75" width="4.50" height="4.50" fill="#14008c"/>
<rect x="325.95" y="87.75" width="4.50" height="4.50" fill="#1400af"/>
<rect x="330.45" y="87.75" width="4.50" height="4.50" fill="#1400e1"/>
<rect x="334.95" y="87.75" width="4.50" height="4.50" fill="#1e46ff"/>
<rect x="339.45" y="87.75" width="4.50" height="4.50" fill="#3c82ff"/>
<rect x="343.95" y="87.75" width="4.50" height="4.50" fill="#140afa"/>
<rect x="348.45" y="87.75" width="4.50" height="4.50" fill="#1400e1"/>
<rect x="352.95" y="87.75" width="4.50" height="4.50" fill="#1400e1"/>
<rect x="357.45" y="87.75" width="4.50" height="4.50" fill="#1400e1"/>
<rect x="361.95" y="87.75" width="4.50" height="4.50" fill="#1400e1"/>
<rect x="366.45" y="87.75" width="4.50" height="4.50" fill="#1400e1"/>
<rect x="370.95" y="87.75" width="4.50" height="4.50" fill="#1400e1"/>
<rect x="375.45" y="87.75" width="4.50" height="4.50" fill="#1400e1"/>
<rect x="379.95" y="87.75" width="4.50" height="4.50" fill="#1400e1"/>
<rect x="384.45" y="87.75" width="4.50" height="4.50" fill="#1400e1"/>
<rect x="258.45" y="92.25" width="4.50" height="4.50" fill="#af140a"/>
<rect x="262.95" y="92.25" width="4.50" height="4.50" fill="#fa230f"/>
<rect x="267.45" y="92.25" width="4.50" height="4.50" fill="#d7190c"/>
<rect x="271.95" y="92.25" width="4.50" height="4.50" fill="#af140a"/>
<rect x="276.45" y="92.25" width="4.50" height="4.50" fill="#d7190c"/>
<rect x="280.95" y="92.25" width="4.50" height="4.50" fill="#fa230f"/>
<rect x="285.45" y="92.25" width="4.50" height="4.50" fill="#dcff3c"/>
<rect x="289.95" y="92.25" width="4.50" height="4.50" fill="#64dcff"/>
<rect x="294.45" y="92.25" width="4.50" height="4.50" fill="#1400e1"/>
<rect x="298.95" y="92.25" width="4.50" height="4.50" fill="#50b4ff"/>
<rect x="303.45" y="92.25" width="4.50" height="4.50" fill="#1400e1"/>
<rect x="307.95" y="92.25" width="4.50" height="4.50" fill="#1400e1"/>
<rect x="312.45" y="92.25" width="4.50" height="4.50" fill="#1400af"/>
<rect x="316.95" y="92.25" width="4.50" height="4.50" fill="#14008c"/>
<rect x="321.45" y="92.25" width="4.50" height="4.50" fill="#14008c"/>
<rect x="325.95" y="92.25" width="4.50" height="4.50" fill="#1400af"/>
<rect x="330.45" y="92.25" width="4.50" height="4.50" fill="#1400e1"/>
<rect x="334.95" y="92.25" width="4.50" height="4.50" fill="#1400e1"/>
<rect x="339.45" y="92.25" width="4.50" height="4.50" fill="#1400e1"/>
<rect x="343.95" y="92.25" width="4.50" height="4.50" fill="#1400e1"/>
<rect x="348.45" y="92.25" width="4.50" height="4.50" fill="#1400e1"/>
<rect x="352.95" y="92.25" width="4.50" height="4.50" fill="#1400e1"/>
<rect x="357.45" y="92.25" width="4.50" height="4.50" fill="#1400af"/>
<rect x="361.95" y="92.25" width="4.50" height="4.50" fill="#1400af"/>
<rect x="366.45" y="92.25" width="4.50" height="4.50" fill="#1400e1"/>
<rect x="370.95" y="92.25" width="4.50" height="4.50" fill="#1400e1"/>
<rect x="375.45" y="92.25" width="4.50" height="4.50" fill="#1400e1"/>
<rect x="379.95" y="92.25" width="4.50" height="4.50" fill="#1400e1"/>
<rect x="384.45" y="92.25" width="4.50" height="4.50" fill="#1400e1"/>
<rect x="258.45" y="96.75" width="4.50" height="4.50" fill="#fa230f"/>
<rect x="262.95" y="96.75" width="4.50" height="4.50" fill="#d7190c"/>
<rect x="267.45" y="96.75" width="4.50" height="4.50" fill="#d7190c"/>
<rect x="271.95" y="96.75" width="4.50" height="4.50" fill="#af140a"/>
<rect x="276.45" y="96.75" width="4.50" height="4.50" fill="#af140a"/>
<rect x="280.95" y="96.75" width="4.50" height="4.50" fill="#fa230f"/>
<rect x="285.45" y="96.75" width="4.50" height="4.50" fill="#f0dc3c"/>
<rect x="289.95" y="96.75" width="4.50" height="4.50" fill="#78ffff"/>
<rect x="294.45" y="96.75" width="4.50" height="4.50" fill="#1400e1"/>
<rect x="298.95" y="96.75" width="4.50" height="4.50" fill="#64dcff"/>
<rect x="303.45" y="96.75" width="4.50" height="4.50" fill="#1e46ff"/>
<rect x="307.95" y="96.75" width="4.50" height="4.50" fill="#1400e1"/>
<rect x="312.45" y="96.75" width="4.50" height="4.50" fill="#1400e1"/>
<rect x="316.95" y="96.75" width="4.50" height="4.50" fill="#1400af"/>
<rect x="321.45" y="96.75" width="4.50" height="4.50" fill="#1400af"/>
<rect x="325.95" y="96.75" width="4.50" height="4.50" fill="#14008c"/>
<rect x="330.45" y="96.75" width="4.50" height="4.50" fill="#1400af"/>
<rect x="334.95" y="96.75" width="4.50" height="4.50" fill="#1400af"/>
<rect x="339.45" y="96.75" width="4.50" height="4.50" fill="#1400af"/>
<rect x="343.95" y="96.75" width="4.50" height="4.50" fill="#1400af"/>
<rect x="348.45" y="96.75" width="4.50" height="4.50" fill="#1400af"/>
<rect x="352.95" y="96.75" width="4.50" height="4.50" fill="#1400af"/>
<rect x="357.45" y="96.75" width="4.50" height="4.50" fill="#1400af"/>
<rect x="361.95" y="96.75" width="4.50" height="4.50" fill="#1400af"/>
<rect x="366.45" y="96.75" width="4.50" height="4.50" fill="#1400af"/>
<rect x="370.95" y="96.75" width="4.50" height="4.50" fill="#1400af"/>
<rect x="375.45" y="96.75" width="4.50" height="4.50" fill="#1400af"/>
<rect x="379.95" y="96.75" width="4.50" height="4.50" fill="#1400e1"/>
<rect x="384.45" y="96.75" width="4.50" height="4.50" fill="#1400e1"/>
<rect x="258.45" y="101.25" width="4.50" height="4.50" fill="#fa230f"/>
<rect x="262.95" y="101.25" width="4.50" height="4.50" fill="#fa230f"/>
<rect x="267.45" y="101.25" width="4.50" height="4.50" fill="#d7190c"/>
<rect x="271.95" y="101.25" width="4.50" height="4.50" fill="#af140a"/>
<rect x="276.45" y="101.25" width="4.50" height="4.50" fill="#910f08"/>
<rect x="280.95" y="101.25" width="4.50" height="4.50" fill="#d7190c"/>
<rect x="285.45" y="101.25" width="4.50" height="4.50" fill="#f0aa32"/>
<rect x="289.95" y="101.25" width="4.50" height="4.50" fill="#78ffff"/>
<rect x="294.45" y="101.25" width="4.50" height="4.50" fill="#50b4ff"/>
<rect x="298.95" y="101.25" width="4.50" height="4.50" fill="#78ffff"/>
<rect x="303.45" y="101.25" width="4.50" height="4.50" fill="#3c82ff"/>
<rect x="307.95" y="101.25" width="4.50" height="4.50" fill="#1e46ff"/>
<rect x="312.45" y="101.25" width="4.50" height="4.50" fill="#1400e1"/>
<rect x="316.95" y="101.25" width="4.50" height="4.50" fill="#1400e1"/>
<rect x="321.45" y="101.25" width="4.50" height="4.50" fill="#1400e1"/>
<rect x="325.95" y="101.25" width="4.50" height="4.50" fill="#1400af"/>
<rect x="330.45" y="101.25" width="4.50" height="4.50" fill="#14008c"/>
<rect x="334.95" y="101.25" width="4.50" height="4.50" fill="#14008c"/>
<rect x="339.45" y="101.25" width="4.50" height="4.50" fill="#14008c"/>
<rect x="343.95" y="101.25" width="4.50" height="4.50" fill="#14008c"/>
<rect x="348.45" y="101.25" width="4.50" height="4.50" fill="#14008c"/>
<rect x="352.95" y="101.25" width="4.50" height="4.50" fill="#14008c"/>
<rect x="357.45" y="101.25" width="4.50" height="4.50" fill="#14008c"/>
<rect x="361.95" y="101.25" width="4.50" height="4.50" fill="#14008c"/>
<rect x="366.45" y="101.25" width="4.50" height="4.50" fill="#1400af"/>
<rect x="370.95" y="101.25" width="4.50" height="4.50" fill="#1400e1"/>
<rect x="375.45" y="101.25" width="4.50" height="4.50" fill="#1400af"/>
<rect x="379.95" y="101.25" width="4.50" height="4.50" fill="#1400e1"/>
<rect x="384.45" y="101.25" width="4.50" height="4.50" fill="#1400e1"/>
<rect x="258.45" y="105.75" width="4.50" height="4.50" fill="#fa5019"/>
<rect x="262.95" y="105.75" width="4.50" height="4.50" fill="#fa230f"/>
<rect x="267.45" y="105.75" width="4.50" height="4.50" fill="#d7190c"/>
<rect x="271.95" y="105.75" width="4.50" height="4.50" fill="#af140a"/>
<rect x="276.45" y="105.75" width="4.50" height="4.50" fill="#910f08"/>
<rect x="280.95" y="105.75" width="4.50" height="4.50" fill="#d7190c"/>
<rect x="285.45" y="105.75" width="4.50" height="4.50" fill="#f0aa32"/>
<rect x="289.95" y="105.75" width="4.50" height="4.50" fill="#78ffff"/>
<rect x="294.45" y="105.75" width="4.50" height="4.50" fill="#dcff3c"/>
<rect x="298.95" y="105.75" width="4.50" height="4.50" fill="#96ff96"/>
<rect x="303.45" y="105.75" width="4.50" height="4.50" fill="#64dcff"/>
<rect x="307.95" y="105.75" width="4.50" height="4.50" fill="#64dcff"/>
<rect x="312.45" y="105.75" width="4.50" height="4.50" fill="#3c82ff"/>
<rect x="316.95" y="105.75" width="4.50" height="4.50" fill="#140afa"/>
<rect x="321.45" y="105.75" width="4.50" height="4.50" fill="#1400e1"/>
<rect x="325.95" y="105.75" width="4.50" height="4.50" fill="#1400af"/>
<rect x="330.45" y="105.75" width="4.50" height="4.50" fill="#14008c"/>
<rect x="334.95" y="105.75" width="4.50" height="4.50" fill="#14008c"/>
<rect x="339.45" y="105.75" width="4.50" height="4.50" fill="#14008c"/>
<rect x="343.95" y="105.75" width="4.50" height="4.50" fill="#14008c"/>
<rect x="348.45" y="105.75" width="4.50" height="4.50" fill="#14008c"/>
<rect x="352.95" y="105.75" width="4.50" height="4.50" fill="#14008c"/>
<rect x="357.45" y="105.75" width="4.50" height="4.50" fill="#14008c"/>
<rect x="361.95" y="105.75" width="4.50" height="4.50" fill="#14008c"/>
<rect x="366.45" y="105.75" width="4.50" height="4.50" fill="#1400af"/>
<rect x="370.95" y="105.75" width="4.50" height="4.50" fill="#1400af"/>
<rect x="375.45" y="105.75" width="4.50" height="4.50" fill="#1400af"/>
<rect x="379.95" y="105.75" width="4.50" height="4.50" fill="#1400af"/>
<rect x="384.45" y="105.75" width="4.50" height="4.50" fill="#1400e1"/>
<rect x="258.45" y="110.25" width="4.50" height="4.50" fill="#f57823"/>
<rect x="262.95" y="110.25" width="4.50" height="4.50" fill="#fa5019"/>
<rect x="267.45" y="110.25" width="4.50" height="4.50" fill="#fa230f"/>
<rect x="271.95" y="110.25" width="4.50" height="4.50" fill="#d7190c"/>
<rect x="276.45" y="110.25" width="4.50" height="4.50" fill="#910f08"/>
<rect x="280.95" y="110.25" width="4.50" height="4.50" fill="#d7190c"/>
<rect x="285.45" y="110.25" width="4.50" height="4.50" fill="#f0aa32"/>
<rect x="289.95" y="110.25" width="4.50" height="4.50" fill="#78ffff"/>
<rect x="294.45" y="110.25" width="4.50" height="4.50" fill="#f0dc3c"/>
<rect x="298.95" y="110.25" width="4.50" height="4.50" fill="#dcff3c"/>
<rect x="303.45" y="110.25" width="4.50" height="4.50" fill="#96ff96"/>
<rect x="307.95" y="110.25" width="4.50" height="4.50" fill="#64dcff"/>
<rect x="312.45" y="110.25" width="4.50" height="4.50" fill="#50b4ff"/>
<rect x="316.95" y="110.25" width="4.50" height="4.50" fill="#140afa"/>
<rect x="321.45" y="110.25" width="4.50" height="4.50" fill="#1400e1"/>
<rect x="325.95" y="110.25" width="4.50" height="4.50" fill="#1400af"/>
<rect x="330.45" y="110.25" width="4.50" height="4.50" fill="#14008c"/>
<rect x="334.95" y="110.25" width="4.50" height="4.50" fill="#14008c"/>
<rect x="339.45" y="110.25" width="4.50" height="4.50" fill="#14008c"/>
<rect x="343.95" y="110.25" width="4.50" height="4.50" fill="#14008c"/>
<rect x="348.45" y="110.25" width="4.50" height="4.50" fill="#14008c"/>
<rect x="352.95" y="110.25" width="4.50" height="4.50" fill="#14008c"/>
<rect x="357.45" y="110.25" width="4.50" height="4.50" fill="#14008c"/>
<rect x="361.95" y="110.25" width="4.50" height="4.50" fill="#14008c"/>
<rect x="366.45" y="110.25" width="4.50" height="4.50" fill="#1400e1"/>
<rect x="370.95" y="110.25" width="4.50" height="4.50" fill="#1400af"/>
<rect x="375.45" y="110.25" width="4.50" height="4.50" fill="#1400af"/>
<rect x="379.95" y="110.25" width="4.50" height="4.50" fill="#1400af"/>
<rect x="384.45" y="110.25" width="4.50" height="4.50" fill="#1400e1"/>
<rect x="258.45" y="114.75" width="4.50" height="4.50" fill="#f0aa32"/>
<rect x="262.95" y="114.75" width="4.50" height="4.50" fill="#f0aa32"/>
<rect x="267.45" y="114.75" width="4.50" height="4.50" fill="#f57823"/>
<rect x="271.95" y="114.75" width="4.50" height="4.50" fill="#fa230f"/>
<rect x="276.45" y="114.75" width="4.50" height="4.50" fill="#910f08"/>
<rect x="280.95" y="114.75" width="4.50" height="4.50" fill="#af140a"/>
<rect x="285.45" y="114.75" width="4.50" height="4.50" fill="#fa5019"/>
<rect x="289.95" y="114.75" width="4.50" height="4.50" fill="#64dcff"/>
<rect x="294.45" y="114.75" width="4.50" height="4.50" fill="#f0aa32"/>
<rect x="298.95" y="114.75" width="4.50" height="4.50" fill="#dcff3c"/>
<rect x="303.45" y="114.75" width="4.50" height="4.50" fill="#beff5a"/>
<rect x="307.95" y="114.75" width="4.50" height="4.50" fill="#64dcff"/>
<rect x="312.45" y="114.75" width="4.50" height="4.50" fill="#50b4ff"/>
<rect x="316.95" y="114.75" width="4.50" height="4.50" fill="#140afa"/>
<rect x="321.45" y="114.75" width="4.50" height="4.50" fill="#1400e1"/>
<rect x="325.95" y="114.75" width="4.50" height="4.50" fill="#1400af"/>
<rect x="330.45" y="114.75" width="4.50" height="4.50" fill="#14008c"/>
<rect x="334.95" y="114.75" width="4.50" height="4.50" fill="#14008c"/>
<rect x="339.45" y="114.75" width="4.50" height="4.50" fill="#14008c"/>
<rect x="343.95" y="114.75" width="4.50" height="4.50" fill="#14008c"/>
<rect x="348.45" y="114.75" width="4.50" height="4.50" fill="#14008c"/>
<rect x="352.95" y="114.75" width="4.50" height="4.50" fill="#14008c"/>
<rect x="357.45" y="114.75" width="4.50" height="4.50" fill="#14008c"/>
<rect x="361.95" y="114.75" width="4.50" height="4.50" fill="#14008c"/>
<rect x="366.45" y="114.75" width="4.50" height="4.50" fill="#14008c"/>
<rect x="370.95" y="114.75" width="4.50" height="4.50" fill="#14008c"/>
<rect x="375.45" y="114.75" width="4.50" height="4.50" fill="#1400af"/>
<rect x="379.95" y="114.75" width="4.50" height="4.50" fill="#78ffff"/>
<rect x="384.45" y="114.75" width="4.50" height="4.50" fill="#1400e1"/>
<rect x="258.45" y="119.25" width="4.50" height="4.50" fill="#dcff3c"/>
<rect x="262.95" y="119.25" width="4.50" height="4.50" fill="#f0dc3c"/>
<rect x="267.45" y="119.25" width="4.50" height="4.50" fill="#f57823"/>
<rect x="271.95" y="119.25" width="4.50" height="4.50" fill="#fa230f"/>
<rect x="276.45" y="119.25" width="4.50" height="4.50" fill="#af140a"/>
<rect x="280.95" y="119.25" width="4.50" height="4.50" fill="#af140a"/>
<rect x="285.45" y="119.25" width="4.50" height="4.50" fill="#fa5019"/>
<rect x="289.95" y="119.25" width="4.50" height="4.50" fill="#64dcff"/>
<rect x="294.45" y="119.25" width="4.50" height="4.50" fill="#f0dc3c"/>
<rect x="298.95" y="119.25" width="4.50" height="4.50" fill="#96ff96"/>
<rect x="303.45" y="119.25" width="4.50" height="4.50" fill="#64dcff"/>
<rect x="307.95" y="119.25" width="4.50" height="4.50" fill="#50b4ff"/>
<rect x="312.45" y="119.25" width="4.50" height="4.50" fill="#1e46ff"/>
<rect x="316.95" y="119.25" width="4.50" height="4.50" fill="#1400e1"/>
<rect x="321.45" y="119.25" width="4.50" height="4.50" fill="#1400e1"/>
<rect x="325.95" y="119.25" width="4.50" height="4.50" fill="#1400af"/>
<rect x="330.45" y="119.25" width="4.50" height="4.50" fill="#14008c"/>
<rect x="334.95" y="119.25" width="4.50" height="4.50" fill="#14008c"/>
<rect x="339.45" y="119.25" width="4.50" height="4.50" fill="#14008c"/>
<rect x="343.95" y="119.25" width="4.50" height="4.50" fill="#14008c"/>
<rect x="348.45" y="119.25" width="4.50" height="4.50" fill="#14008c"/>
<rect x="352.95" y="119.25" width="4.50" height="4.50" fill="#14008c"/>
<rect x="357.45" y="119.25" width="4.50" height="4.50" fill="#14008c"/>
<rect x="361.95" y="119.25" width="4.50" height="4.50" fill="#14008c"/>
<rect x="366.45" y="119.25" width="4.50" height="4.50" fill="#14008c"/>
<rect x="370.95" y="119.25" width="4.50" height="4.50" fill="#14008c"/>
<rect x="375.45" y="119.25" width="4.50" height="4.50" fill="#1400af"/>
<rect x="379.95" y="119.25" width="4.50" height="4.50" fill="#1400e1"/>
<rect x="384.45" y="119.25" width="4.50" height="4.50" fill="#1400e1"/>
<rect x="258.45" y="123.75" width="4.50" height="4.50" fill="#dcff3c"/>
<rect x="262.95" y="123.75" width="4.50" height="4.50" fill="#dcff3c"/>
<rect x="267.45" y="123.75" width="4.50" height="4.50" fill="#f0aa32"/>
<rect x="271.95" y="123.75" width="4.50" height="4.50" fill="#fa230f"/>
<rect x="276.45" y="123.75" width="4.50" height="4.50" fill="#af140a"/>
<rect x="280.95" y="123.75" width="4.50" height="4.50" fill="#af140a"/>
<rect x="285.45" y="123.75" width="4.50" height="4.50" fill="#fa5019"/>
<rect x="289.95" y="123.75" width="4.50" height="4.50" fill="#1400e1"/>
<rect x="294.45" y="123.75" width="4.50" height="4.50" fill="#dcff3c"/>
<rect x="298.95" y="123.75" width="4.50" height="4.50" fill="#78ffff"/>
<rect x="303.45" y="123.75" width="4.50" height="4.50" fill="#50b4ff"/>
<rect x="307.95" y="123.75" width="4.50" height="4.50" fill="#1e46ff"/>
<rect x="312.45" y="123.75" width="4.50" height="4.50" fill="#1400e1"/>
<rect x="316.95" y="123.75" width="4.50" height="4.50" fill="#1400e1"/>
<rect x="321.45" y="123.75" width="4.50" height="4.50" fill="#1400e1"/>
<rect x="325.95" y="123.75" width="4.50" height="4.50" fill="#1400af"/>
<rect x="330.45" y="123.75" width="4.50" height="4.50" fill="#14008c"/>
<rect x="334.95" y="123.75" width="4.50" height="4.50" fill="#14008c"/>
<rect x="339.45" y="123.75" width="4.50" height="4.50" fill="#14008c"/>
<rect x="343.95" y="123.75" width="4.50" height="4.50" fill="#14008c"/>
<rect x="348.45" y="123.75" width="4.50" height="4.50" fill="#14008c"/>
<rect x="352.95" y="123.75" width="4.50" height="4.50" fill="#14008c"/>
<rect x="357.45" y="123.75" width="4.50" height="4.50" fill="#14008c"/>
<rect x="361.95" y="123.75" width="4.50" height="4.50" fill="#14008c"/>
<rect x="366.45" y="123.75" width="4.50" height="4.50" fill="#14008c"/>
<rect x="370.95" y="123.75" width="4.50" height="4.50" fill="#14008c"/>
<rect x="375.45" y="123.75" width="4.50" height="4.50" fill="#3c82ff"/>
<rect x="379.95" y="123.75" width="4.50" height="4.50" fill="#1400e1"/>
<rect x="384.45" y="123.75" width="4.50" height="4.50" fill="#1400e1"/>
<rect x="258.45" y="128.25" width="4.50" height="4.50" fill="#beff5a"/>
<rect x="262.95" y="128.25" width="4.50" height="4.50" fill="#dcff3c"/>
<rect x="267.45" y="128.25" width="4.50" height="4.50" fill="#f0dc3c"/>
<rect x="271.95" y="128.25" width="4.50" height="4.50" fill="#fa5019"/>
<rect x="276.45" y="128.25" width="4.50" height="4.50" fill="#d7190c"/>
<rect x="280.95" y="128.25" width="4.50" height="4.50" fill="#d7190c"/>
<rect x="285.45" y="128.25" width="4.50" height="4.50" fill="#f57823"/>
<rect x="289.95" y="128.25" width="4.50" height="4.50" fill="#1400e1"/>
<rect x="294.45" y="128.25" width="4.50" height="4.50" fill="#78ffff"/>
<rect x="298.95" y="128.25" width="4.50" height="4.50" fill="#50b4ff"/>
<rect x="303.45" y="128.25" width="4.50" height="4.50" fill="#3c82ff"/>
<rect x="307.95" y="128.25" width="4.50" height="4.50" fill="#1400e1"/>
<rect x="312.45" y="128.25" width="4.50" height="4.50" fill="#1400e1"/>
<rect x="316.95" y="128.25" width="4.50" height="4.50" fill="#1400e1"/>
<rect x="321.45" y="128.25" width="4.50" height="4.50" fill="#1400e1"/>
<rect x="325.95" y="128.25" width="4.50" height="4.50" fill="#1400af"/>
<rect x="330.45" y="128.25" width="4.50" height="4.50" fill="#14008c"/>
<rect x="334.95" y="128.25" width="4.50" height="4.50" fill="#14008c"/>
<rect x="339.45" y="128.25" width="4.50" height="4.50" fill="#14008c"/>
<rect x="343.95" y="128.25" width="4.50" height="4.50" fill="#14008c"/>
<rect x="348.45" y="128.25" width="4.50" height="4.50" fill="#14008c"/>
<rect x="352.95" y="128.25" width="4.50" height="4.50" fill="#14008c"/>
<rect x="357.45" y="128.25" width="4.50" height="4.50" fill="#14008c"/>
<rect x="361.95" y="128.25" width="4.50" height="4.50" fill="#14008c"/>
<rect x="366.45" y="128.25" width="4.50" height="4.50" fill="#14008c"/>
<rect x="370.95" y="128.25" width="4.50" height="4.50" fill="#14008c"/>
<rect x="375.45" y="128.25" width="4.50" height="4.50" fill="#3c82ff"/>
<rect x="379.95" y="128.25" width="4.50" height="4.50" fill="#1400e1"/>
<rect x="384.45" y="128.25" width="4.50" height="4.50" fill="#1400af"/>
<rect x="258.45" y="132.75" width="4.50" height="4.50" fill="#96ff96"/>
<rect x="262.95" y="132.75" width="4.50" height="4.50" fill="#beff5a"/>
<rect x="267.45" y="132.75" width="4.50" height="4.50" fill="#dcff3c"/>
<rect x="271.95" y="132.75" width="4.50" height="4.50" fill="#f57823"/>
<rect x="276.45" y="132.75" width="4.50" height="4.50" fill="#fa230f"/>
<rect x="280.95" y="132.75" width="4.50" height="4.50" fill="#fa230f"/>
<rect x="285.45" y="132.75" width="4.50" height="4.50" fill="#dcff3c"/>
<rect x="289.95" y="132.75" width="4.50" height="4.50" fill="#1400e1"/>
<rect x="294.45" y="132.75" width="4.50" height="4.50" fill="#64dcff"/>
<rect x="298.95" y="132.75" width="4.50" height="4.50" fill="#1e46ff"/>
<rect x="303.45" y="132.75" width="4.50" height="4.50" fill="#140afa"/>
<rect x="307.95" y="132.75" width="4.50" height="4.50" fill="#1400e1"/>
<rect x="312.45" y="132.75" width="4.50" height="4.50" fill="#1400e1"/>
<rect x="316.95" y="132.75" width="4.50" height="4.50" fill="#1400e1"/>
<rect x="321.45" y="132.75" width="4.50" height="4.50" fill="#1400e1"/>
<rect x="325.95" y="132.75" width="4.50" height="4.50" fill="#1400af"/>
<rect x="330.45" y="132.75" width="4.50" height="4.50" fill="#14008c"/>
<rect x="334.95" y="132.75" width="4.50" height="4.50" fill="#14008c"/>
<rect x="339.45" y="132.75" width="4.50" height="4.50" fill="#14008c"/>
<rect x="343.95" y="132.75" width="4.50" height="4.50" fill="#14008c"/>
<rect x="348.45" y="132.75" width="4.50" height="4.50" fill="#14008c"/>
<rect x="352.95" y="132.75" width="4.50" height="4.50" fill="#14008c"/>
<rect x="357.45" y="132.75" width="4.50" height="4.50" fill="#14008c"/>
<rect x="361.95" y="132.75" width="4.50" height="4.50" fill="#14008c"/>
<rect x="366.45" y="132.75" width="4.50" height="4.50" fill="#14008c"/>
<rect x="370.95" y="132.75" width="4.50" height="4.50" fill="#1400e1"/>
<rect x="375.45" y="132.75" width="4.50" height="4.50" fill="#1400e1"/>
<rect x="379.95" y="132.75" width="4.50" height="4.50" fill="#1400af"/>
<rect x="384.45" y="132.75" width="4.50" height="4.50" fill="#1400af"/>
<rect x="258.45" y="137.25" width="4.50" height="4.50" fill="#82ffd2"/>
<rect x="262.95" y="137.25" width="4.50" height="4.50" fill="#96ff96"/>
<rect x="267.45" y="137.25" width="4.50" height="4.50" fill="#dcff3c"/>
<rect x="271.95" y="137.25" width="4.50" height="4.50" fill="#f0aa32"/>
<rect x="276.45" y="137.25" width="4.50" height="4.50" fill="#fa230f"/>
<rect x="280.95" y="137.25" width="4.50" height="4.50" fill="#fa5019"/>
<rect x="285.45" y="137.25" width="4.50" height="4.50" fill="#beff5a"/>
<rect x="289.95" y="137.25" width="4.50" height="4.50" fill="#1400e1"/>
<rect x="294.45" y="137.25" width="4.50" height="4.50" fill="#3c82ff"/>
<rect x="298.95" y="137.25" width="4.50" height="4.50" fill="#140afa"/>
<rect x="303.45" y="137.25" width="4.50" height="4.50" fill="#1400e1"/>
<rect x="307.95" y="137.25" width="4.50" height="4.50" fill="#1400e1"/>
<rect x="312.45" y="137.25" width="4.50" height="4.50" fill="#1400e1"/>
<rect x="316.95" y="137.25" width="4.50" height="4.50" fill="#1400e1"/>
<rect x="321.45" y="137.25" width="4.50" height="4.50" fill="#1400af"/>
<rect x="325.95" y="137.25" width="4.50" height="4.50" fill="#1400af"/>
<rect x="330.45" y="137.25" width="4.50" height="4.50" fill="#1400af"/>
<rect x="334.95" y="137.25" width="4.50" height="4.50" fill="#14008c"/>
<rect x="339.45" y="137.25" width="4.50" height="4.50" fill="#1400af"/>
<rect x="343.95" y="137.25" width="4.50" height="4.50" fill="#14008c"/>
<rect x="348.45" y="137.25" width="4.50" height="4.50" fill="#14008c"/>
<rect x="352.95" y="137.25" width="4.50" height="4.50" fill="#14008c"/>
<rect x="357.45" y="137.25" width="4.50" height="4.50" fill="#14008c"/>
<rect x="361.95" y="137.25" width="4.50" height="4.50" fill="#14008c"/>
<rect x="366.45" y="137.25" width="4.50" height="4.50" fill="#1400af"/>
<rect x="370.95" y="137.25" width="4.50" height="4.50" fill="#1400e1"/>
<rect x="375.45" y="137.25" width="4.50" height="4.50" fill="#1400e1"/>
<rect x="379.95" y="137.25" width="4.50" height="4.50" fill="#1400e1"/>
<rect x="384.45" y="137.25" width="4.50" height="4.50" fill="#1400e1"/>
<rect x="258.45" y="141.75" width="4.50" height="4.50" fill="#78ffff"/>
<rect x="262.95" y="141.75" width="4.50" height="4.50" fill="#82ffd2"/>
<rect x="267.45" y="141.75" width="4.50" height="4.50" fill="#beff5a"/>
<rect x="271.95" y="141.75" width="4.50" height="4.50" fill="#f0dc3c"/>
<rect x="276.45" y="141.75" width="4.50" height="4.50" fill="#f57823"/>
<rect x="280.95" y="141.75" width="4.50" height="4.50" fill="#f0dc3c"/>
<rect x="285.45" y="141.75" width="4.50" height="4.50" fill="#78ffff"/>
<rect x="289.95" y="141.75" width="4.50" height="4.50" fill="#1400e1"/>
<rect x="294.45" y="141.75" width="4.50" height="4.50" fill="#3c82ff"/>
<rect x="298.95" y="141.75" width="4.50" height="4.50" fill="#1400e1"/>
<rect x="303.45" y="141.75" width="4.50" height="4.50" fill="#1400e1"/>
<rect x="307.95" y="141.75" width="4.50" height="4.50" fill="#1400e1"/>
<rect x="312.45" y="141.75" width="4.50" height="4.50" fill="#1400e1"/>
<rect x="316.95" y="141.75" width="4.50" height="4.50" fill="#1400af"/>
<rect x="321.45" y="141.75" width="4.50" height="4.50" fill="#1400af"/>
<rect x="325.95" y="141.75" width="4.50" height="4.50" fill="#1400af"/>
<rect x="330.45" y="141.75" width="4.50" height="4.50" fill="#1400af"/>
<rect x="334.95" y="141.75" width="4.50" height="4.50" fill="#14008c"/>
<rect x="339.45" y="141.75" width="4.50" height="4.50" fill="#14008c"/>
<rect x="343.95" y="141.75" width="4.50" height="4.50" fill="#14008c"/>
<rect x="348.45" y="141.75" width="4.50" height="4.50" fill="#14008c"/>
<rect x="352.95" y="141.75" width="4.50" height="4.50" fill="#1400af"/>
<rect x="357.45" y="141.75" width="4.50" height="4.50" fill="#1400af"/>
<rect x="361.95" y="141.75" width="4.50" height="4.50" fill="#1400e1"/>
<rect x="366.45" y="141.75" width="4.50" height="4.50" fill="#1400e1"/>
<rect x="370.95" y="141.75" width="4.50" height="4.50" fill="#14008c"/>
<rect x="375.45" y="141.75" width="4.50" height="4.50" fill="#1400e1"/>
<rect x="379.95" y="141.75" width="4.50" height="4.50" fill="#1400e1"/>
<rect x="384.45" y="141.75" width="4.50" height="4.50" fill="#1400e1"/>
<rect x="258.45" y="146.25" width="4.50" height="4.50" fill="#78ffff"/>
<rect x="262.95" y="146.25" width="4.50" height="4.50" fill="#82ffd2"/>
<rect x="267.45" y="146.25" width="4.50" height="4.50" fill="#beff5a"/>
<rect x="271.95" y="146.25" width="4.50" height="4.50" fill="#dcff3c"/>
<rect x="276.45" y="146.25" width="4.50" height="4.50" fill="#f0dc3c"/>
<rect x="280.95" y="146.25" width="4.50" height="4.50" fill="#beff5a"/>
<rect x="285.45" y="146.25" width="4.50" height="4.50" fill="#3c82ff"/>
<rect x="289.95" y="146.25" width="4.50" height="4.50" fill="#1400e1"/>
<rect x="294.45" y="146.25" width="4.50" height="4.50" fill="#1e46ff"/>
<rect x="298.95" y="146.25" width="4.50" height="4.50" fill="#1400e1"/>
<rect x="303.45" y="146.25" width="4.50" height="4.50" fill="#1400e1"/>
<rect x="307.95" y="146.25" width="4.50" height="4.50" fill="#1400e1"/>
<rect x="312.45" y="146.25" width="4.50" height="4.50" fill="#1400af"/>
<rect x="316.95" y="146.25" width="4.50" height="4.50" fill="#1400af"/>
<rect x="321.45" y="146.25" width="4.50" height="4.50" fill="#1400af"/>
<rect x="325.95" y="146.25" width="4.50" height="4.50" fill="#1400af"/>
<rect x="330.45" y="146.25" width="4.50" height="4.50" fill="#1400af"/>
<rect x="334.95" y="146.25" width="4.50" height="4.50" fill="#1400af"/>
<rect x="339.45" y="146.25" width="4.50" height="4.50" fill="#1400af"/>
<rect x="343.95" y="146.25" width="4.50" height="4.50" fill="#14008c"/>
<rect x="348.45" y="146.25" width="4.50" height="4.50" fill="#1400af"/>
<rect x="352.95" y="146.25" width="4.50" height="4.50" fill="#3c82ff"/>
<rect x="357.45" y="146.25" width="4.50" height="4.50" fill="#3c82ff"/>
<rect x="361.95" y="146.25" width="4.50" height="4.50" fill="#1400e1"/>
<rect x="366.45" y="146.25" width="4.50" height="4.50" fill="#1400e1"/>
<rect x="370.95" y="146.25" width="4.50" height="4.50" fill="#1400e1"/>
<rect x="375.45" y="146.25" width="4.50" height="4.50" fill="#14008c"/>
<rect x="379.95" y="146.25" width="4.50" height="4.50" fill="#14008c"/>
<rect x="384.45" y="146.25" width="4.50" height="4.50" fill="#14008c"/>
<rect x="258.45" y="150.75" width="4.50" height="4.50" fill="#50b4ff"/>
<rect x="262.95" y="150.75" width="4.50" height="4.50" fill="#78ffff"/>
<rect x="267.45" y="150.75" width="4.50" height="4.50" fill="#82ffd2"/>
<rect x="271.95" y="150.75" width="4.50" height="4.50" fill="#beff5a"/>
<rect x="276.45" y="150.75" width="4.50" height="4.50" fill="#beff5a"/>
<rect x="280.95" y="150.75" width="4.50" height="4.50" fill="#78ffff"/>
<rect x="285.45" y="150.75" width="4.50" height="4.50" fill="#1400e1"/>
<rect x="289.95" y="150.75" width="4.50" height="4.50" fill="#1400e1"/>
<rect x="294.45" y="150.75" width="4.50" height="4.50" fill="#1400e1"/>
<rect x="298.95" y="150.75" width="4.50" height="4.50" fill="#1400e1"/>
<rect x="303.45" y="150.75" width="4.50" height="4.50" fill="#1400e1"/>
<rect x="307.95" y="150.75" width="4.50" height="4.50" fill="#1400e1"/>
<rect x="312.45" y="150.75" width="4.50" height="4.50" fill="#14008c"/>
<rect x="316.95" y="150.75" width="4.50" height="4.50" fill="#1400e1"/>
<rect x="321.45" y="150.75" width="4.50" height="4.50" fill="#1400af"/>
<rect x="325.95" y="150.75" width="4.50" height="4.50" fill="#1400af"/>
<rect x="330.45" y="150.75" width="4.50" height="4.50" fill="#1400af"/>
<rect x="334.95" y="150.75" width="4.50" height="4.50" fill="#1400af"/>
<rect x="339.45" y="150.75" width="4.50" height="4.50" fill="#1400af"/>
<rect x="343.95" y="150.75" width="4.50" height="4.50" fill="#78ffff"/>
<rect x="348.45" y="150.75" width="4.50" height="4.50" fill="#1400e1"/>
<rect x="352.95" y="150.75" width="4.50" height="4.50" fill="#1400e1"/>
<rect x="357.45" y="150.75" width="4.50" height="4.50" fill="#1400e1"/>
<rect x="361.95" y="150.75" width="4.50" height="4.50" fill="#1400af"/>
<rect x="366.45" y="150.75" width="4.50" height="4.50" fill="#1400e1"/>
<rect x="370.95" y="150.75" width="4.50" height="4.50" fill="#1400e1"/>
<rect x="375.45" y="150.75" width="4.50" height="4.50" fill="#14008c"/>
<rect x="379.95" y="150.75" width="4.50" height="4.50" fill="#14008c"/>
<rect x="384.45" y="150.75" width="4.50" height="4.50" fill="#14008c"/>
<rect x="258.45" y="155.25" width="4.50" height="4.50" fill="#64dcff"/>
<rect x="262.95" y="155.25" width="4.50" height="4.50" fill="#78ffff"/>
<rect x="267.45" y="155.25" width="4.50" height="4.50" fill="#82ffd2"/>
<rect x="271.95" y="155.25" width="4.50" height="4.50" fill="#beff5a"/>
<rect x="276.45" y="155.25" width="4.50" height="4.50" fill="#beff5a"/>
<rect x="280.95" y="155.25" width="4.50" height="4.50" fill="#78ffff"/>
<rect x="285.45" y="155.25" width="4.50" height="4.50" fill="#1400e1"/>
<rect x="289.95" y="155.25" width="4.50" height="4.50" fill="#1400e1"/>
<rect x="294.45" y="155.25" width="4.50" height="4.50" fill="#1400e1"/>
<rect x="298.95" y="155.25" width="4.50" height="4.50" fill="#1400e1"/>
<rect x="303.45" y="155.25" width="4.50" height="4.50" fill="#1400e1"/>
<rect x="307.95" y="155.25" width="4.50" height="4.50" fill="#1400af"/>
<rect x="312.45" y="155.25" width="4.50" height="4.50" fill="#1400af"/>
<rect x="316.95" y="155.25" width="4.50" height="4.50" fill="#1400e1"/>
<rect x="321.45" y="155.25" width="4.50" height="4.50" fill="#1400e1"/>
<rect x="325.95" y="155.25" width="4.50" height="4.50" fill="#1400af"/>
<rect x="330.45" y="155.25" width="4.50" height="4.50" fill="#1400af"/>
<rect x="334.95" y="155.25" width="4.50" height="4.50" fill="#1400af"/>
<rect x="339.45" y="155.25" width="4.50" height="4.50" fill="#1400af"/>
<rect x="343.95" y="155.25" width="4.50" height="4.50" fill="#1400e1"/>
<rect x="348.45" y="155.25" width="4.50" height="4.50" fill="#1400e1"/>
<rect x="352.95" y="155.25" width="4.50" height="4.50" fill="#1400e1"/>
<rect x="357.45" y="155.25" width="4.50" height="4.50" fill="#1400e1"/>
<rect x="361.95" y="155.25" width="4.50" height="4.50" fill="#1400e1"/>
<rect x="366.45" y="155.25" width="4.50" height="4.50" fill="#1400e1"/>
<rect x="370.95" y="155.25" width="4.50" height="4.50" fill="#1400e1"/>
<rect x="375.45" y="155.25" width="4.50" height="4.50" fill="#1400af"/>
<rect x="379.95" y="155.25" width="4.50" height="4.50" fill="#14008c"/>
<rect x="384.45" y="155.25" width="4.50" height="4.50" fill="#14008c"/>
</g></g>
<rect x="260.7" y="31.5" width="126.20" height="126.10" fill="none" stroke="#555" stroke-width="0.5"/>
<text transform="translate(257.30,36.00) scale(1,1.06)" font-size="12" text-anchor="end" fill="#1a1a1a" >80</text>
<text transform="translate(257.30,99.00) scale(1,1.06)" font-size="12" text-anchor="end" fill="#1a1a1a" >150</text>
<text transform="translate(257.30,161.00) scale(1,1.06)" font-size="12" text-anchor="end" fill="#1a1a1a" >220</text>
<text transform="translate(261.00,172.70) scale(1,1.06)" font-size="12" text-anchor="middle" fill="#1a1a1a" >80</text>
<text transform="translate(324.00,172.70) scale(1,1.06)" font-size="12" text-anchor="middle" fill="#1a1a1a" >150</text>
<text transform="translate(387.00,172.70) scale(1,1.06)" font-size="12" text-anchor="middle" fill="#1a1a1a" >220</text>
<text transform="translate(324.00,188.60) scale(1,1.06)" font-size="13.3" text-anchor="middle" fill="#1a1a1a" >Lx(nm)</text>
<text transform="translate(234.4,94.4) rotate(-90)" font-size="14" text-anchor="middle" fill="#1a1a1a">Ly(nm)</text>
<rect x="401.3" y="32" width="12.3" height="125" fill="url(#jetg)" stroke="#444" stroke-width="0.4"/>
<text transform="translate(418.00,37.00) scale(1,1.06)" font-size="12" text-anchor="start" fill="#1a1a1a" >1</text>
<text transform="translate(418.00,61.90) scale(1,1.06)" font-size="12" text-anchor="start" fill="#1a1a1a" >0.8</text>
<text transform="translate(418.00,86.60) scale(1,1.06)" font-size="12" text-anchor="start" fill="#1a1a1a" >0.6</text>
<text transform="translate(418.00,111.50) scale(1,1.06)" font-size="12" text-anchor="start" fill="#1a1a1a" >0.4</text>
<text transform="translate(418.00,136.50) scale(1,1.06)" font-size="12" text-anchor="start" fill="#1a1a1a" >0.2</text>
<text transform="translate(418.00,161.70) scale(1,1.06)" font-size="12" text-anchor="start" fill="#1a1a1a" >0</text>
<text transform="translate(446.50,18.80) scale(1,1.0)" font-size="15.3" text-anchor="start" fill="#1a1a1a" >(c)</text>
<g stroke="#e2e9f1" stroke-width="0.6">
<line x1="508.67" y1="29.9" x2="508.67" y2="152.5"/>
<line x1="533.03" y1="29.9" x2="533.03" y2="152.5"/>
<line x1="557.40" y1="29.9" x2="557.40" y2="152.5"/>
<line x1="581.77" y1="29.9" x2="581.77" y2="152.5"/>
<line x1="606.13" y1="29.9" x2="606.13" y2="152.5"/>
<line x1="484.3" y1="132.07" x2="630.5" y2="132.07"/>
<line x1="484.3" y1="111.63" x2="630.5" y2="111.63"/>
<line x1="484.3" y1="91.20" x2="630.5" y2="91.20"/>
<line x1="484.3" y1="70.77" x2="630.5" y2="70.77"/>
<line x1="484.3" y1="50.33" x2="630.5" y2="50.33"/>
</g>
<line x1="484.3" y1="29.9" x2="630.5" y2="29.9" stroke="#bdbdbd" stroke-width="1"/>
<line x1="484.3" y1="152.5" x2="630.5" y2="152.5" stroke="#333" stroke-width="0.8"/>
<line x1="484.3" y1="29.9" x2="484.3" y2="152.5" stroke="#5a98d6" stroke-width="0.7"/>
<line x1="484.3" y1="132.07" x2="485.8" y2="132.07" stroke="#5a98d6" stroke-width="0.6"/>
<line x1="484.3" y1="111.63" x2="485.8" y2="111.63" stroke="#5a98d6" stroke-width="0.6"/>
<line x1="484.3" y1="91.20" x2="485.8" y2="91.20" stroke="#5a98d6" stroke-width="0.6"/>
<line x1="484.3" y1="70.77" x2="485.8" y2="70.77" stroke="#5a98d6" stroke-width="0.6"/>
<line x1="484.3" y1="50.33" x2="485.8" y2="50.33" stroke="#5a98d6" stroke-width="0.6"/>
<line x1="630.5" y1="29.9" x2="630.5" y2="152.5" stroke="#e07a4a" stroke-width="0.7"/>
<line x1="629.0" y1="127.98" x2="630.5" y2="127.98" stroke="#e07a4a" stroke-width="0.6"/>
<line x1="629.0" y1="103.46" x2="630.5" y2="103.46" stroke="#e07a4a" stroke-width="0.6"/>
<line x1="629.0" y1="78.94" x2="630.5" y2="78.94" stroke="#e07a4a" stroke-width="0.6"/>
<line x1="629.0" y1="54.42" x2="630.5" y2="54.42" stroke="#e07a4a" stroke-width="0.6"/>
<line x1="484.30" y1="152.5" x2="484.30" y2="151.0" stroke="#333" stroke-width="0.6"/>
<line x1="484.30" y1="29.9" x2="484.30" y2="31.4" stroke="#333" stroke-width="0.6"/>
<line x1="508.67" y1="152.5" x2="508.67" y2="151.0" stroke="#333" stroke-width="0.6"/>
<line x1="508.67" y1="29.9" x2="508.67" y2="31.4" stroke="#333" stroke-width="0.6"/>
<line x1="533.03" y1="152.5" x2="533.03" y2="151.0" stroke="#333" stroke-width="0.6"/>
<line x1="533.03" y1="29.9" x2="533.03" y2="31.4" stroke="#333" stroke-width="0.6"/>
<line x1="557.40" y1="152.5" x2="557.40" y2="151.0" stroke="#333" stroke-width="0.6"/>
<line x1="557.40" y1="29.9" x2="557.40" y2="31.4" stroke="#333" stroke-width="0.6"/>
<line x1="581.77" y1="152.5" x2="581.77" y2="151.0" stroke="#333" stroke-width="0.6"/>
<line x1="581.77" y1="29.9" x2="581.77" y2="31.4" stroke="#333" stroke-width="0.6"/>
<line x1="606.13" y1="152.5" x2="606.13" y2="151.0" stroke="#333" stroke-width="0.6"/>
<line x1="606.13" y1="29.9" x2="606.13" y2="31.4" stroke="#333" stroke-width="0.6"/>
<line x1="630.50" y1="152.5" x2="630.50" y2="151.0" stroke="#333" stroke-width="0.6"/>
<line x1="630.50" y1="29.9" x2="630.50" y2="31.4" stroke="#333" stroke-width="0.6"/>
<text transform="translate(480.50,157.20) scale(1,1.06)" font-size="12" text-anchor="end" fill="#3d7fc7" >0</text>
<text transform="translate(480.50,136.77) scale(1,1.06)" font-size="12" text-anchor="end" fill="#3d7fc7" >60</text>
<text transform="translate(480.50,116.33) scale(1,1.06)" font-size="12" text-anchor="end" fill="#3d7fc7" >120</text>
<text transform="translate(480.50,95.90) scale(1,1.06)" font-size="12" text-anchor="end" fill="#3d7fc7" >180</text>
<text transform="translate(480.50,75.47) scale(1,1.06)" font-size="12" text-anchor="end" fill="#3d7fc7" >240</text>
<text transform="translate(480.50,55.03) scale(1,1.06)" font-size="12" text-anchor="end" fill="#3d7fc7" >300</text>
<text transform="translate(480.50,34.60) scale(1,1.06)" font-size="12" text-anchor="end" fill="#3d7fc7" >360</text>
<text transform="translate(634.60,157.20) scale(1,1.06)" font-size="12" text-anchor="start" fill="#d9602a" >0</text>
<text transform="translate(634.60,132.68) scale(1,1.06)" font-size="12" text-anchor="start" fill="#d9602a" >20</text>
<text transform="translate(634.60,108.16) scale(1,1.06)" font-size="12" text-anchor="start" fill="#d9602a" >40</text>
<text transform="translate(634.60,83.64) scale(1,1.06)" font-size="12" text-anchor="start" fill="#d9602a" >60</text>
<text transform="translate(634.60,59.12) scale(1,1.06)" font-size="12" text-anchor="start" fill="#d9602a" >80</text>
<text transform="translate(634.60,34.60) scale(1,1.06)" font-size="12" text-anchor="start" fill="#d9602a" >100</text>
<text transform="translate(484.30,167.50) scale(1,1.06)" font-size="12" text-anchor="middle" fill="#1a1a1a" >0</text>
<text transform="translate(508.67,167.50) scale(1,1.06)" font-size="12" text-anchor="middle" fill="#1a1a1a" >30</text>
<text transform="translate(533.03,167.50) scale(1,1.06)" font-size="12" text-anchor="middle" fill="#1a1a1a" >60</text>
<text transform="translate(557.40,167.50) scale(1,1.06)" font-size="12" text-anchor="middle" fill="#1a1a1a" >90</text>
<text transform="translate(581.77,167.50) scale(1,1.06)" font-size="12" text-anchor="middle" fill="#1a1a1a" >120</text>
<text transform="translate(606.13,167.50) scale(1,1.06)" font-size="12" text-anchor="middle" fill="#1a1a1a" >150</text>
<text transform="translate(630.50,167.50) scale(1,1.06)" font-size="12" text-anchor="middle" fill="#1a1a1a" >180</text>
<text transform="translate(557.40,183.00) scale(1,1.06)" font-size="13.3" text-anchor="middle" fill="#1a1a1a" >orientation angle(°)</text>
<text transform="translate(456.6,91.3) rotate(-90)" font-size="13.3" text-anchor="middle" fill="#3d7fc7">phase(rad)</text>
<text transform="translate(668.2,91.3) rotate(-90)" font-size="13.3" text-anchor="middle" fill="#d9602a">cross-Transmission(%)</text>
<line x1="484.3" y1="33.7" x2="630.5" y2="33.7" stroke="#d95319" stroke-width="1.4"/>
<rect x="482.40" y="31.8" width="3.8" height="3.8" fill="#d95319"/>
<rect x="490.52" y="31.8" width="3.8" height="3.8" fill="#d95319"/>
<rect x="498.64" y="31.8" width="3.8" height="3.8" fill="#d95319"/>
<rect x="506.77" y="31.8" width="3.8" height="3.8" fill="#d95319"/>
<rect x="514.89" y="31.8" width="3.8" height="3.8" fill="#d95319"/>
<rect x="523.01" y="31.8" width="3.8" height="3.8" fill="#d95319"/>
<rect x="531.13" y="31.8" width="3.8" height="3.8" fill="#d95319"/>
<rect x="539.26" y="31.8" width="3.8" height="3.8" fill="#d95319"/>
<rect x="547.38" y="31.8" width="3.8" height="3.8" fill="#d95319"/>
<rect x="555.50" y="31.8" width="3.8" height="3.8" fill="#d95319"/>
<rect x="563.62" y="31.8" width="3.8" height="3.8" fill="#d95319"/>
<rect x="571.74" y="31.8" width="3.8" height="3.8" fill="#d95319"/>
<rect x="579.87" y="31.8" width="3.8" height="3.8" fill="#d95319"/>
<rect x="587.99" y="31.8" width="3.8" height="3.8" fill="#d95319"/>
<rect x="596.11" y="31.8" width="3.8" height="3.8" fill="#d95319"/>
<rect x="604.23" y="31.8" width="3.8" height="3.8" fill="#d95319"/>
<rect x="612.36" y="31.8" width="3.8" height="3.8" fill="#d95319"/>
<rect x="620.48" y="31.8" width="3.8" height="3.8" fill="#d95319"/>
<rect x="628.60" y="31.8" width="3.8" height="3.8" fill="#d95319"/>
<line x1="484.3" y1="152.5" x2="630.5" y2="29.9" stroke="#3a7bc4" stroke-width="1.4"/>
<circle cx="484.30" cy="152.50" r="2.1" fill="#3a7bc4"/>
<circle cx="492.42" cy="145.69" r="2.1" fill="#3a7bc4"/>
<circle cx="500.54" cy="138.88" r="2.1" fill="#3a7bc4"/>
<circle cx="508.67" cy="132.07" r="2.1" fill="#3a7bc4"/>
<circle cx="516.79" cy="125.26" r="2.1" fill="#3a7bc4"/>
<circle cx="524.91" cy="118.44" r="2.1" fill="#3a7bc4"/>
<circle cx="533.03" cy="111.63" r="2.1" fill="#3a7bc4"/>
<circle cx="541.16" cy="104.82" r="2.1" fill="#3a7bc4"/>
<circle cx="549.28" cy="98.01" r="2.1" fill="#3a7bc4"/>
<circle cx="557.40" cy="91.20" r="2.1" fill="#3a7bc4"/>
<circle cx="565.52" cy="84.39" r="2.1" fill="#3a7bc4"/>
<circle cx="573.64" cy="77.58" r="2.1" fill="#3a7bc4"/>
<circle cx="581.77" cy="70.77" r="2.1" fill="#3a7bc4"/>
<circle cx="589.89" cy="63.96" r="2.1" fill="#3a7bc4"/>
<circle cx="598.01" cy="57.14" r="2.1" fill="#3a7bc4"/>
<circle cx="606.13" cy="50.33" r="2.1" fill="#3a7bc4"/>
<circle cx="614.26" cy="43.52" r="2.1" fill="#3a7bc4"/>
<circle cx="622.38" cy="36.71" r="2.1" fill="#3a7bc4"/>
<circle cx="630.50" cy="29.90" r="2.1" fill="#3a7bc4"/>
<text transform="translate(228.60,202.40) scale(1,1.0)" font-size="15.3" text-anchor="middle" fill="#1a1a1a" >(d)</text>
<rect x="259.0" y="210.8" width="130.20" height="129.80" fill="#3e26a8"/>
<g filter="url(#rblur)">
<circle cx="324.2" cy="276.1" r="56.400" fill="#fdc835"/>
<circle cx="324.2" cy="276.1" r="56.050" fill="#fad62d"/>
<circle cx="324.2" cy="276.1" r="55.700" fill="#f6e526"/>
<circle cx="324.2" cy="276.1" r="55.350" fill="#f7f316"/>
<circle cx="324.2" cy="276.1" r="55.000" fill="#4752f3"/>
<circle cx="324.2" cy="276.1" r="54.694" fill="#3d6cfd"/>
<circle cx="324.2" cy="276.1" r="54.388" fill="#2d84f6"/>
<circle cx="324.2" cy="276.1" r="54.081" fill="#2698ea"/>
<circle cx="324.2" cy="276.1" r="53.775" fill="#19aadb"/>
<circle cx="324.2" cy="276.1" r="53.469" fill="#0ab8c7"/>
<circle cx="324.2" cy="276.1" r="53.163" fill="#14c3ad"/>
<circle cx="324.2" cy="276.1" r="52.856" fill="#36cb90"/>
<circle cx="324.2" cy="276.1" r="52.550" fill="#61cf6b"/>
<circle cx="324.2" cy="276.1" r="52.244" fill="#8ece47"/>
<circle cx="324.2" cy="276.1" r="51.938" fill="#b7c730"/>
<circle cx="324.2" cy="276.1" r="51.631" fill="#d9bd32"/>
<circle cx="324.2" cy="276.1" r="51.325" fill="#f3bb3b"/>
<circle cx="324.2" cy="276.1" r="51.019" fill="#fdc636"/>
<circle cx="324.2" cy="276.1" r="50.712" fill="#f9db2b"/>
<circle cx="324.2" cy="276.1" r="50.406" fill="#f7f01a"/>
<circle cx="324.2" cy="276.1" r="50.100" fill="#4750f2"/>
<circle cx="324.2" cy="276.1" r="49.789" fill="#4066fb"/>
<circle cx="324.2" cy="276.1" r="49.479" fill="#337bfa"/>
<circle cx="324.2" cy="276.1" r="49.168" fill="#2a8ef0"/>
<circle cx="324.2" cy="276.1" r="48.858" fill="#239ee5"/>
<circle cx="324.2" cy="276.1" r="48.547" fill="#16add7"/>
<circle cx="324.2" cy="276.1" r="48.237" fill="#0ab8c6"/>
<circle cx="324.2" cy="276.1" r="47.926" fill="#11c2b1"/>
<circle cx="324.2" cy="276.1" r="47.616" fill="#2cc998"/>
<circle cx="324.2" cy="276.1" r="47.305" fill="#4dcd7d"/>
<circle cx="324.2" cy="276.1" r="46.995" fill="#74cf5b"/>
<circle cx="324.2" cy="276.1" r="46.684" fill="#98cd41"/>
<circle cx="324.2" cy="276.1" r="46.374" fill="#bac630"/>
<circle cx="324.2" cy="276.1" r="46.063" fill="#d7be31"/>
<circle cx="324.2" cy="276.1" r="45.753" fill="#efb93b"/>
<circle cx="324.2" cy="276.1" r="45.442" fill="#fcc03a"/>
<circle cx="324.2" cy="276.1" r="45.132" fill="#fccf31"/>
<circle cx="324.2" cy="276.1" r="44.821" fill="#f7e128"/>
<circle cx="324.2" cy="276.1" r="44.511" fill="#f7f218"/>
<circle cx="324.2" cy="276.1" r="44.200" fill="#474ff1"/>
<circle cx="324.2" cy="276.1" r="43.900" fill="#4263fb"/>
<circle cx="324.2" cy="276.1" r="43.600" fill="#3677fb"/>
<circle cx="324.2" cy="276.1" r="43.300" fill="#2b89f3"/>
<circle cx="324.2" cy="276.1" r="43.000" fill="#2698ea"/>
<circle cx="324.2" cy="276.1" r="42.700" fill="#1ea6df"/>
<circle cx="324.2" cy="276.1" r="42.400" fill="#0eb2d0"/>
<circle cx="324.2" cy="276.1" r="42.100" fill="#08bcbf"/>
<circle cx="324.2" cy="276.1" r="41.800" fill="#17c4ab"/>
<circle cx="324.2" cy="276.1" r="41.500" fill="#31ca95"/>
<circle cx="324.2" cy="276.1" r="41.200" fill="#50ce7b"/>
<circle cx="324.2" cy="276.1" r="40.900" fill="#73cf5c"/>
<circle cx="324.2" cy="276.1" r="40.600" fill="#94ce43"/>
<circle cx="324.2" cy="276.1" r="40.300" fill="#b3c732"/>
<circle cx="324.2" cy="276.1" r="40.000" fill="#cec031"/>
<circle cx="324.2" cy="276.1" r="39.700" fill="#e5bb37"/>
<circle cx="324.2" cy="276.1" r="39.400" fill="#f6bc3b"/>
<circle cx="324.2" cy="276.1" r="39.100" fill="#fdc437"/>
<circle cx="324.2" cy="276.1" r="38.800" fill="#fbd42e"/>
<circle cx="324.2" cy="276.1" r="38.500" fill="#f6e327"/>
<circle cx="324.2" cy="276.1" r="38.200" fill="#f7f317"/>
<circle cx="324.2" cy="276.1" r="37.900" fill="#474cef"/>
<circle cx="324.2" cy="276.1" r="37.593" fill="#4758f7"/>
<circle cx="324.2" cy="276.1" r="37.286" fill="#4164fb"/>
<circle cx="324.2" cy="276.1" r="36.980" fill="#3b70fe"/>
<circle cx="324.2" cy="276.1" r="36.673" fill="#337cf9"/>
<circle cx="324.2" cy="276.1" r="36.366" fill="#2b87f5"/>
<circle cx="324.2" cy="276.1" r="36.059" fill="#2990ef"/>
<circle cx="324.2" cy="276.1" r="35.753" fill="#2699e9"/>
<circle cx="324.2" cy="276.1" r="35.446" fill="#20a2e2"/>
<circle cx="324.2" cy="276.1" r="35.139" fill="#19aadb"/>
<circle cx="324.2" cy="276.1" r="34.832" fill="#10b1d2"/>
<circle cx="324.2" cy="276.1" r="34.526" fill="#0bb7c9"/>
<circle cx="324.2" cy="276.1" r="34.219" fill="#08bdbe"/>
<circle cx="324.2" cy="276.1" r="33.912" fill="#0fc2b2"/>
<circle cx="324.2" cy="276.1" r="33.605" fill="#1cc6a6"/>
<circle cx="324.2" cy="276.1" r="33.299" fill="#2bc999"/>
<circle cx="324.2" cy="276.1" r="32.992" fill="#3bcc8c"/>
<circle cx="324.2" cy="276.1" r="32.685" fill="#4ecd7c"/>
<circle cx="324.2" cy="276.1" r="32.378" fill="#62cf6a"/>
<circle cx="324.2" cy="276.1" r="32.072" fill="#76cf5a"/>
<circle cx="324.2" cy="276.1" r="31.765" fill="#88ce4b"/>
<circle cx="324.2" cy="276.1" r="31.458" fill="#9acc3f"/>
<circle cx="324.2" cy="276.1" r="31.151" fill="#acc936"/>
<circle cx="324.2" cy="276.1" r="30.845" fill="#bcc530"/>
<circle cx="324.2" cy="276.1" r="30.538" fill="#cbc131"/>
<circle cx="324.2" cy="276.1" r="30.231" fill="#d9be32"/>
<circle cx="324.2" cy="276.1" r="29.924" fill="#e4bb37"/>
<circle cx="324.2" cy="276.1" r="29.618" fill="#f0b93b"/>
<circle cx="324.2" cy="276.1" r="29.311" fill="#f6bc3b"/>
<circle cx="324.2" cy="276.1" r="29.004" fill="#fcc03a"/>
<circle cx="324.2" cy="276.1" r="28.697" fill="#fdc636"/>
<circle cx="324.2" cy="276.1" r="28.391" fill="#fccf31"/>
<circle cx="324.2" cy="276.1" r="28.084" fill="#fad72d"/>
<circle cx="324.2" cy="276.1" r="27.777" fill="#f8df29"/>
<circle cx="324.2" cy="276.1" r="27.470" fill="#f5e725"/>
<circle cx="324.2" cy="276.1" r="27.164" fill="#f7ef1c"/>
<circle cx="324.2" cy="276.1" r="26.857" fill="#f8f712"/>
<circle cx="324.2" cy="276.1" r="26.550" fill="#3e26a8"/>
</g>
<line x1="259.0" y1="276.1" x2="389.2" y2="276.1" stroke="#e4e4f6" stroke-width="1.15" stroke-dasharray="3.4 2.8 1 2.8"/>
<rect x="258.8" y="210.60000000000002" width="130.60" height="130.20" fill="none" stroke="#777" stroke-width="0.5"/>
<line x1="324.20" y1="276.10" x2="294.69" y2="233.88" stroke="#c41a1a" stroke-width="0.9"/>
<path d="M292.40,230.60 L296.82,233.61 L293.71,235.79 Z" fill="#c41a1a"/>
<line x1="324.20" y1="276.10" x2="344.53" y2="263.15" stroke="#c41a1a" stroke-width="0.9"/>
<path d="M347.90,261.00 L344.70,265.29 L342.66,262.08 Z" fill="#c41a1a"/>
<text x="278.0" y="227.2" font-size="13.5" fill="#fff" font-style="italic">ρ<tspan font-size="9.5" dy="2.5">a</tspan></text>
<text x="325.0" y="263.0" font-size="13.5" fill="#fff" font-style="italic">ρ<tspan font-size="9" dy="2.2" font-style="normal">0</tspan></text>
<text transform="translate(254.00,215.40) scale(1,1.06)" font-size="12" text-anchor="end" fill="#1a1a1a" >-1</text>
<text transform="translate(254.00,247.85) scale(1,1.06)" font-size="12" text-anchor="end" fill="#1a1a1a" >-0.5</text>
<text transform="translate(254.00,280.70) scale(1,1.06)" font-size="12" text-anchor="end" fill="#1a1a1a" >0</text>
<text transform="translate(254.00,312.75) scale(1,1.06)" font-size="12" text-anchor="end" fill="#1a1a1a" >0.5</text>
<text transform="translate(254.00,345.20) scale(1,1.06)" font-size="12" text-anchor="end" fill="#1a1a1a" >1</text>
<text transform="translate(259.00,356.50) scale(1,1.06)" font-size="12" text-anchor="middle" fill="#1a1a1a" >-1</text>
<text transform="translate(291.55,356.50) scale(1,1.06)" font-size="12" text-anchor="middle" fill="#1a1a1a" >-0.5</text>
<text transform="translate(324.10,356.50) scale(1,1.06)" font-size="12" text-anchor="middle" fill="#1a1a1a" >0</text>
<text transform="translate(356.65,356.50) scale(1,1.06)" font-size="12" text-anchor="middle" fill="#1a1a1a" >0.5</text>
<text transform="translate(389.20,356.50) scale(1,1.06)" font-size="12" text-anchor="middle" fill="#1a1a1a" >1</text>
<text transform="translate(323.90,372.20) scale(1,1.06)" font-size="13.3" text-anchor="middle" fill="#1a1a1a" >x(mm)</text>
<text transform="translate(230.6,276) rotate(-90)" font-size="13.3" text-anchor="middle" fill="#1a1a1a">y(mm)</text>
<rect x="398" y="210.9" width="12" height="130" fill="url(#parg)" stroke="#555" stroke-width="0.3"/>
<text transform="translate(414.30,216.20) scale(1,1.06)" font-size="12" text-anchor="start" fill="#1a1a1a" >2<tspan font-style="italic">π</tspan></text>
<text transform="translate(414.30,280.80) scale(1,1.06)" font-size="12" text-anchor="start" fill="#1a1a1a" ><tspan font-style="italic">π</tspan></text>
<text transform="translate(414.30,345.00) scale(1,1.06)" font-size="12" text-anchor="start" fill="#1a1a1a" >0</text>
<text transform="translate(446.60,202.40) scale(1,1.0)" font-size="15.3" text-anchor="start" fill="#1a1a1a" >(e)</text>
<rect x="483.4" y="209.3" width="148.70" height="122.20" fill="none" stroke="#3a3a3a" stroke-width="0.6"/>
<line x1="483.40" y1="331.5" x2="483.40" y2="330.0" stroke="#333" stroke-width="0.6"/>
<line x1="483.40" y1="209.3" x2="483.40" y2="210.8" stroke="#333" stroke-width="0.6"/>
<line x1="520.58" y1="331.5" x2="520.58" y2="330.0" stroke="#333" stroke-width="0.6"/>
<line x1="520.58" y1="209.3" x2="520.58" y2="210.8" stroke="#333" stroke-width="0.6"/>
<line x1="557.75" y1="331.5" x2="557.75" y2="330.0" stroke="#333" stroke-width="0.6"/>
<line x1="557.75" y1="209.3" x2="557.75" y2="210.8" stroke="#333" stroke-width="0.6"/>
<line x1="594.92" y1="331.5" x2="594.92" y2="330.0" stroke="#333" stroke-width="0.6"/>
<line x1="594.92" y1="209.3" x2="594.92" y2="210.8" stroke="#333" stroke-width="0.6"/>
<line x1="632.10" y1="331.5" x2="632.10" y2="330.0" stroke="#333" stroke-width="0.6"/>
<line x1="632.10" y1="209.3" x2="632.10" y2="210.8" stroke="#333" stroke-width="0.6"/>
<line x1="483.4" y1="331.50" x2="484.9" y2="331.50" stroke="#333" stroke-width="0.6"/>
<line x1="632.1" y1="331.50" x2="630.6" y2="331.50" stroke="#333" stroke-width="0.6"/>
<line x1="483.4" y1="270.40" x2="484.9" y2="270.40" stroke="#333" stroke-width="0.6"/>
<line x1="632.1" y1="270.40" x2="630.6" y2="270.40" stroke="#333" stroke-width="0.6"/>
<line x1="483.4" y1="209.30" x2="484.9" y2="209.30" stroke="#333" stroke-width="0.6"/>
<line x1="632.1" y1="209.30" x2="630.6" y2="209.30" stroke="#333" stroke-width="0.6"/>
<path d="M483.40,331.50 L493.51,331.50 L493.51,219.08 L494.48,209.30 L494.48,331.50 L495.00,305.32 L495.53,291.26 L496.06,279.76 L496.58,269.66 L497.11,260.49 L497.64,251.99 L498.16,244.01 L498.69,236.46 L499.22,229.26 L499.74,222.36 L500.27,215.72 L500.80,209.30 L500.80,331.50 L501.33,305.32 L501.86,291.26 L502.40,279.76 L502.93,269.66 L503.46,260.49 L503.99,251.99 L504.53,244.01 L505.06,236.46 L505.59,229.26 L506.13,222.36 L506.66,215.72 L507.19,209.30 L507.19,331.50 L507.81,305.32 L508.43,291.26 L509.05,279.76 L509.67,269.66 L510.29,260.49 L510.91,251.99 L511.53,244.01 L512.15,236.46 L512.77,229.26 L513.39,222.36 L514.01,215.72 L514.63,209.30 L514.63,331.50 L515.71,305.32 L516.78,291.26 L517.86,279.76 L518.94,269.66 L520.02,260.49 L521.10,251.99 L522.17,244.01 L523.25,236.46 L524.33,229.26 L525.41,222.36 L526.49,215.72 L527.56,209.30 L527.56,331.50 L587.94,331.50 L587.94,209.30 L589.01,215.72 L590.09,222.36 L591.17,229.26 L592.25,236.46 L593.33,244.01 L594.40,251.99 L595.48,260.49 L596.56,269.66 L597.64,279.76 L598.72,291.26 L599.79,305.32 L600.87,331.50 L600.87,209.30 L601.49,215.72 L602.11,222.36 L602.73,229.26 L603.35,236.46 L603.97,244.01 L604.59,251.99 L605.21,260.49 L605.83,269.66 L606.45,279.76 L607.07,291.26 L607.69,305.32 L608.31,331.50 L608.31,209.30 L608.84,215.72 L609.37,222.36 L609.91,229.26 L610.44,236.46 L610.97,244.01 L611.51,251.99 L612.04,260.49 L612.57,269.66 L613.10,279.76 L613.64,291.26 L614.17,305.32 L614.70,331.50 L614.70,209.30 L615.23,215.72 L615.76,222.36 L616.28,229.26 L616.81,236.46 L617.34,244.01 L617.86,251.99 L618.39,260.49 L618.92,269.66 L619.44,279.76 L619.97,291.26 L620.50,305.32 L621.02,331.50 L621.02,209.30 L621.99,219.08 L621.99,331.50 L632.10,331.50" stroke="#3a7bc4" stroke-width="1.15" fill="none" stroke-linejoin="round"/>
<text transform="translate(479.00,213.40) scale(1,1.06)" font-size="12" text-anchor="end" fill="#1a1a1a" >2<tspan font-style="italic">π</tspan></text>
<text transform="translate(479.00,274.50) scale(1,1.06)" font-size="12" text-anchor="end" fill="#1a1a1a" ><tspan font-style="italic">π</tspan></text>
<text transform="translate(479.00,335.60) scale(1,1.06)" font-size="12" text-anchor="end" fill="#1a1a1a" >0</text>
<text transform="translate(483.40,347.20) scale(1,1.06)" font-size="12" text-anchor="middle" fill="#1a1a1a" >-1</text>
<text transform="translate(520.58,347.20) scale(1,1.06)" font-size="12" text-anchor="middle" fill="#1a1a1a" >-0.5</text>
<text transform="translate(557.75,347.20) scale(1,1.06)" font-size="12" text-anchor="middle" fill="#1a1a1a" >0</text>
<text transform="translate(594.92,347.20) scale(1,1.06)" font-size="12" text-anchor="middle" fill="#1a1a1a" >0.5</text>
<text transform="translate(632.10,347.20) scale(1,1.06)" font-size="12" text-anchor="middle" fill="#1a1a1a" >1</text>
<text transform="translate(557.80,362.20) scale(1,1.06)" font-size="13.3" text-anchor="middle" fill="#1a1a1a" >x(mm)</text>
<text transform="translate(462.5,270.4) rotate(-90)" font-size="13.3" text-anchor="middle" fill="#1a1a1a">phase(rad)</text>
<text transform="translate(13.20,394.60) scale(1,1.0)" font-size="15.3" text-anchor="start" fill="#1a1a1a" >(f)</text>
<rect x="82.1" y="384.6" width="557.60" height="98.70" fill="#000"/>
<filter id="gblur" x="-10%" y="-200%" width="120%" height="500%"><feGaussianBlur stdDeviation="0.9 0.6"/></filter>
<filter id="sblur" x="-10%" y="-200%" width="120%" height="500%"><feGaussianBlur stdDeviation="0.5 0.35"/></filter>
<polygon points="395.00,432.27 398.58,432.27 402.17,432.16 405.75,431.97 409.33,431.78 412.92,431.59 416.50,431.40 420.08,431.22 423.67,431.03 427.25,430.84 430.83,430.65 434.42,430.46 438.00,430.28 441.58,430.12 445.17,430.00 448.75,429.88 452.33,429.76 455.92,429.64 459.50,429.51 463.08,429.39 466.67,429.31 470.25,429.26 473.83,429.22 477.42,429.17 481.00,429.13 484.58,429.08 488.17,429.04 491.75,429.02 495.33,429.04 498.92,429.05 502.50,429.07 506.08,429.08 509.67,429.10 513.25,429.11 516.83,429.20 520.42,429.35 524.00,429.50 527.58,429.65 531.17,429.80 534.75,429.95 538.33,430.10 541.92,430.27 545.50,430.45 549.08,430.63 552.67,430.81 556.25,430.99 559.83,431.17 563.42,431.35 567.00,431.48 570.58,431.56 574.17,431.65 577.75,431.74 581.33,431.82 584.92,431.91 588.50,431.99 592.08,432.08 595.67,432.17 599.25,432.25 602.83,432.28 606.42,432.30 610.00,432.32 610.00,435.58 606.42,435.60 602.83,435.62 599.25,435.65 595.67,435.73 592.08,435.82 588.50,435.91 584.92,435.99 581.33,436.08 577.75,436.16 574.17,436.25 570.58,436.34 567.00,436.42 563.42,436.55 559.83,436.73 556.25,436.91 552.67,437.09 549.08,437.27 545.50,437.45 541.92,437.63 538.33,437.80 534.75,437.95 531.17,438.10 527.58,438.25 524.00,438.40 520.42,438.55 516.83,438.70 513.25,438.79 509.67,438.80 506.08,438.82 502.50,438.83 498.92,438.85 495.33,438.86 491.75,438.88 488.17,438.86 484.58,438.82 481.00,438.77 477.42,438.73 473.83,438.68 470.25,438.64 466.67,438.59 463.08,438.51 459.50,438.39 455.92,438.26 452.33,438.14 448.75,438.02 445.17,437.90 441.58,437.78 438.00,437.63 434.42,437.44 430.83,437.25 427.25,437.06 423.67,436.87 420.08,436.68 416.50,436.50 412.92,436.31 409.33,436.12 405.75,435.93 402.17,435.74 398.58,435.63 395.00,435.63" fill="url(#beamglow)" filter="url(#gblur)"/>
<g filter="url(#sblur)">
<polygon points="82.10,433.20 86.75,433.20 91.39,433.20 96.04,433.20 100.69,433.20 105.33,433.20 109.98,433.20 114.63,433.19 119.27,433.19 123.92,433.19 128.57,433.19 133.21,433.19 137.86,433.19 142.51,433.19 147.15,433.19 151.80,433.19 156.45,433.19 161.09,433.19 165.74,433.19 170.39,433.19 175.03,433.19 179.68,433.18 184.33,433.18 188.97,433.18 193.62,433.18 198.27,433.18 202.91,433.18 207.56,433.18 212.21,433.18 216.85,433.18 221.50,433.18 226.15,433.18 230.79,433.18 235.44,433.18 240.09,433.18 244.73,433.17 249.38,433.17 254.03,433.17 258.67,433.17 263.32,433.17 267.97,433.17 272.61,433.17 277.26,433.17 281.91,433.17 286.55,433.17 291.20,433.17 295.85,433.17 300.49,433.17 305.14,433.16 309.79,433.16 314.43,433.16 319.08,433.16 323.73,433.16 328.37,433.16 333.02,433.16 337.67,433.16 342.31,433.16 346.96,433.16 351.61,433.16 356.25,433.16 360.90,433.16 365.55,433.16 370.19,433.15 374.84,433.15 379.49,433.15 384.13,433.15 388.78,433.15 393.43,433.15 398.07,433.15 402.72,433.08 407.37,432.97 412.01,432.85 416.66,432.73 421.31,432.62 425.95,432.50 430.60,432.39 435.25,432.27 439.89,432.15 444.54,432.08 449.19,432.00 453.83,431.93 458.48,431.85 463.13,431.78 467.77,431.73 472.42,431.71 477.07,431.68 481.71,431.65 486.36,431.62 491.01,431.60 495.65,431.61 500.30,431.62 504.95,431.63 509.59,431.64 514.24,431.65 518.89,431.73 523.53,431.82 528.18,431.91 532.83,432.01 537.47,432.10 542.12,432.20 546.77,432.31 551.41,432.42 556.06,432.54 560.71,432.65 565.35,432.75 570.00,432.81 574.65,432.86 579.29,432.91 583.94,432.97 588.59,433.02 593.23,433.07 597.88,433.13 602.53,433.16 607.17,433.17 611.82,433.18 616.47,433.19 621.11,433.20 625.76,433.21 630.41,433.23 635.05,433.24 639.70,433.25 639.70,434.65 635.05,434.66 630.41,434.67 625.76,434.69 621.11,434.70 616.47,434.71 611.82,434.72 607.17,434.73 602.53,434.74 597.88,434.77 593.23,434.83 588.59,434.88 583.94,434.93 579.29,434.99 574.65,435.04 570.00,435.09 565.35,435.15 560.71,435.25 556.06,435.36 551.41,435.48 546.77,435.59 542.12,435.70 537.47,435.80 532.83,435.89 528.18,435.99 523.53,436.08 518.89,436.17 514.24,436.25 509.59,436.26 504.95,436.27 500.30,436.28 495.65,436.29 491.01,436.30 486.36,436.28 481.71,436.25 477.07,436.22 472.42,436.19 467.77,436.17 463.13,436.12 458.48,436.05 453.83,435.97 449.19,435.90 444.54,435.82 439.89,435.75 435.25,435.63 430.60,435.52 425.95,435.40 421.31,435.28 416.66,435.17 412.01,435.05 407.37,434.93 402.72,434.82 398.07,434.75 393.43,434.75 388.78,434.75 384.13,434.75 379.49,434.75 374.84,434.75 370.19,434.75 365.55,434.74 360.90,434.74 356.25,434.74 351.61,434.74 346.96,434.74 342.31,434.74 337.67,434.74 333.02,434.74 328.37,434.74 323.73,434.74 319.08,434.74 314.43,434.74 309.79,434.74 305.14,434.74 300.49,434.73 295.85,434.73 291.20,434.73 286.55,434.73 281.91,434.73 277.26,434.73 272.61,434.73 267.97,434.73 263.32,434.73 258.67,434.73 254.03,434.73 249.38,434.73 244.73,434.73 240.09,434.72 235.44,434.72 230.79,434.72 226.15,434.72 221.50,434.72 216.85,434.72 212.21,434.72 207.56,434.72 202.91,434.72 198.27,434.72 193.62,434.72 188.97,434.72 184.33,434.72 179.68,434.72 175.03,434.71 170.39,434.71 165.74,434.71 161.09,434.71 156.45,434.71 151.80,434.71 147.15,434.71 142.51,434.71 137.86,434.71 133.21,434.71 128.57,434.71 123.92,434.71 119.27,434.71 114.63,434.71 109.98,434.70 105.33,434.70 100.69,434.70 96.04,434.70 91.39,434.70 86.75,434.70 82.10,434.70" fill="url(#beamcore)"/>
<polygon points="420.00,433.14 422.33,433.11 424.67,433.07 427.00,433.04 429.33,433.00 431.67,432.96 434.00,432.93 436.33,432.89 438.67,432.85 441.00,432.82 443.33,432.80 445.67,432.78 448.00,432.75 450.33,432.73 452.67,432.71 455.00,432.69 457.33,432.66 459.67,432.64 462.00,432.62 464.33,432.59 466.67,432.58 469.00,432.57 471.33,432.56 473.67,432.55 476.00,432.55 478.33,432.54 480.67,432.53 483.00,432.52 485.33,432.51 487.67,432.50 490.00,432.49 492.33,432.50 494.67,432.50 497.00,432.50 499.33,432.50 501.67,432.51 504.00,432.51 506.33,432.51 508.67,432.52 511.00,432.52 513.33,432.52 515.67,432.53 518.00,432.56 520.33,432.59 522.67,432.62 525.00,432.65 527.33,432.68 529.67,432.71 532.00,432.73 534.33,432.76 536.67,432.79 539.00,432.82 541.33,432.85 543.67,432.89 546.00,432.92 548.33,432.96 550.67,432.99 553.00,433.03 555.33,433.06 557.67,433.10 560.00,433.13 560.00,434.77 557.67,434.80 555.33,434.84 553.00,434.87 550.67,434.91 548.33,434.94 546.00,434.98 543.67,435.01 541.33,435.05 539.00,435.08 536.67,435.11 534.33,435.14 532.00,435.17 529.67,435.19 527.33,435.22 525.00,435.25 522.67,435.28 520.33,435.31 518.00,435.34 515.67,435.37 513.33,435.38 511.00,435.38 508.67,435.38 506.33,435.39 504.00,435.39 501.67,435.39 499.33,435.40 497.00,435.40 494.67,435.40 492.33,435.40 490.00,435.41 487.67,435.40 485.33,435.39 483.00,435.38 480.67,435.37 478.33,435.36 476.00,435.35 473.67,435.35 471.33,435.34 469.00,435.33 466.67,435.32 464.33,435.31 462.00,435.28 459.67,435.26 457.33,435.24 455.00,435.21 452.67,435.19 450.33,435.17 448.00,435.15 445.67,435.12 443.33,435.10 441.00,435.08 438.67,435.05 436.33,435.01 434.00,434.97 431.67,434.94 429.33,434.90 427.00,434.86 424.67,434.83 422.33,434.79 420.00,434.76" fill="url(#beamglow2)"/>
<polygon points="445.00,433.35 446.58,433.34 448.17,433.33 449.75,433.32 451.33,433.32 452.92,433.31 454.50,433.30 456.08,433.29 457.67,433.28 459.25,433.28 460.83,433.27 462.42,433.26 464.00,433.25 465.58,433.24 467.17,433.24 468.75,433.24 470.33,433.24 471.92,433.23 473.50,433.23 475.08,433.23 476.67,433.22 478.25,433.22 479.83,433.22 481.42,433.21 483.00,433.21 484.58,433.21 486.17,433.21 487.75,433.20 489.33,433.20 490.92,433.20 492.50,433.20 494.08,433.20 495.67,433.20 497.25,433.20 498.83,433.20 500.42,433.20 502.00,433.21 503.58,433.21 505.17,433.21 506.75,433.21 508.33,433.21 509.92,433.21 511.50,433.21 513.08,433.21 514.67,433.21 516.25,433.22 517.83,433.23 519.42,433.24 521.00,433.25 522.58,433.26 524.17,433.27 525.75,433.28 527.33,433.29 528.92,433.30 530.50,433.31 532.08,433.32 533.67,433.33 535.25,433.34 536.83,433.35 538.42,433.36 540.00,433.37 540.00,434.53 538.42,434.54 536.83,434.55 535.25,434.56 533.67,434.57 532.08,434.58 530.50,434.59 528.92,434.60 527.33,434.61 525.75,434.62 524.17,434.63 522.58,434.64 521.00,434.65 519.42,434.66 517.83,434.67 516.25,434.68 514.67,434.69 513.08,434.69 511.50,434.69 509.92,434.69 508.33,434.69 506.75,434.69 505.17,434.69 503.58,434.69 502.00,434.69 500.42,434.70 498.83,434.70 497.25,434.70 495.67,434.70 494.08,434.70 492.50,434.70 490.92,434.70 489.33,434.70 487.75,434.70 486.17,434.69 484.58,434.69 483.00,434.69 481.42,434.69 479.83,434.68 478.25,434.68 476.67,434.68 475.08,434.67 473.50,434.67 471.92,434.67 470.33,434.66 468.75,434.66 467.17,434.66 465.58,434.66 464.00,434.65 462.42,434.64 460.83,434.63 459.25,434.62 457.67,434.62 456.08,434.61 454.50,434.60 452.92,434.59 451.33,434.58 449.75,434.58 448.17,434.57 446.58,434.56 445.00,434.55" fill="url(#beamglow3)"/>
</g>
<line x1="392.76" y1="429.35" x2="583.94" y2="429.35" stroke="#701008" stroke-width="1" opacity="0.55"/>
<line x1="392.76" y1="438.55" x2="583.94" y2="438.55" stroke="#701008" stroke-width="1" opacity="0.55"/>
<line x1="392.76" y1="424.45" x2="583.94" y2="424.45" stroke="#701008" stroke-width="1" opacity="0.3"/>
<line x1="392.76" y1="443.45" x2="583.94" y2="443.45" stroke="#701008" stroke-width="1" opacity="0.3"/>
<path d="M82.10,400.55 L86.08,400.55 L90.07,400.56 L94.05,400.58 L98.03,400.61 L102.01,400.64 L106.00,400.68 L109.98,400.73 L113.96,400.78 L117.95,400.85 L121.93,400.92 L125.91,400.99 L129.89,401.08 L133.88,401.17 L137.86,401.27 L141.84,401.37 L145.83,401.49 L149.81,401.61 L153.79,401.74 L157.77,401.87 L161.76,402.02 L165.74,402.17 L169.72,402.32 L173.71,402.49 L177.69,402.66 L181.67,402.84 L185.65,403.03 L189.64,403.22 L193.62,403.42 L197.60,403.63 L201.59,403.85 L205.57,404.07 L209.55,404.30 L213.53,404.54 L217.52,404.79 L221.50,405.04 L225.48,405.30 L229.47,405.57 L233.45,405.84 L237.43,406.12 L241.41,406.41 L245.40,406.71 L249.38,407.01 L253.36,407.32 L257.35,407.64 L261.33,407.97 L265.31,408.30 L269.29,408.64 L273.28,408.99 L277.26,409.35 L281.24,409.71 L285.23,410.08 L289.21,410.46 L293.19,410.84 L297.17,411.23 L301.16,411.63 L305.14,412.04 L309.12,412.45 L313.11,412.88 L317.09,413.30 L321.07,413.74 L325.05,414.18 L329.04,414.63 L333.02,415.09 L337.00,415.56 L340.99,416.03 L344.97,416.51 L348.95,417.00 L352.93,417.49 L356.92,417.99 L360.90,418.50 L364.88,419.02 L368.87,419.54 L372.85,420.08 L376.83,420.61 L380.81,421.16 L384.80,421.71 L388.78,422.27 L392.76,422.84 L396.75,423.42 L400.73,424.00 L404.71,424.59 L408.69,425.19 L412.68,425.79 L416.66,426.40 L420.64,427.02 L424.63,427.65 L428.61,428.28 L432.59,428.92 L436.57,429.57 L440.56,430.23 L444.54,430.89 L448.52,431.56 L452.51,432.24 L456.49,432.93 L460.47,433.62 L464.45,434.32 L468.44,435.02 L472.42,435.74 L476.40,436.46 L480.39,437.19 L484.37,437.93 L488.35,438.67 L492.33,439.42 L496.32,440.18 L500.30,440.95 L504.28,441.72 L508.27,442.50 L512.25,443.29 L516.23,444.08 L520.21,444.88 L524.20,445.69 L528.18,446.51 L532.16,447.34 L536.15,448.17 L540.13,449.01 L544.11,449.85 L548.09,450.71 L552.08,451.57 L556.06,452.44 L560.04,453.31 L564.03,454.19 L568.01,455.08 L571.99,455.98 L575.97,456.89 L579.96,457.80 L583.94,458.72 L587.92,459.65 L591.91,460.58 L595.89,461.52 L599.87,462.47 L603.85,463.43 L607.84,464.39 L611.82,465.36 L615.80,466.34 L619.79,467.33 L623.77,468.32 L627.75,469.32 L631.73,470.33 L635.72,471.34 L639.70,472.36" stroke="#f2f2f2" stroke-width="1.25" fill="none" stroke-dasharray="5.1 4.7"/>
<path d="M82.10,467.35 L86.08,467.35 L90.07,467.34 L94.05,467.32 L98.03,467.29 L102.01,467.26 L106.00,467.22 L109.98,467.17 L113.96,467.12 L117.95,467.05 L121.93,466.98 L125.91,466.91 L129.89,466.82 L133.88,466.73 L137.86,466.63 L141.84,466.53 L145.83,466.41 L149.81,466.29 L153.79,466.16 L157.77,466.03 L161.76,465.88 L165.74,465.73 L169.72,465.58 L173.71,465.41 L177.69,465.24 L181.67,465.06 L185.65,464.87 L189.64,464.68 L193.62,464.48 L197.60,464.27 L201.59,464.05 L205.57,463.83 L209.55,463.60 L213.53,463.36 L217.52,463.11 L221.50,462.86 L225.48,462.60 L229.47,462.33 L233.45,462.06 L237.43,461.78 L241.41,461.49 L245.40,461.19 L249.38,460.89 L253.36,460.58 L257.35,460.26 L261.33,459.93 L265.31,459.60 L269.29,459.26 L273.28,458.91 L277.26,458.55 L281.24,458.19 L285.23,457.82 L289.21,457.44 L293.19,457.06 L297.17,456.67 L301.16,456.27 L305.14,455.86 L309.12,455.45 L313.11,455.02 L317.09,454.60 L321.07,454.16 L325.05,453.72 L329.04,453.27 L333.02,452.81 L337.00,452.34 L340.99,451.87 L344.97,451.39 L348.95,450.90 L352.93,450.41 L356.92,449.91 L360.90,449.40 L364.88,448.88 L368.87,448.36 L372.85,447.82 L376.83,447.29 L380.81,446.74 L384.80,446.19 L388.78,445.63 L392.76,445.06 L396.75,444.48 L400.73,443.90 L404.71,443.31 L408.69,442.71 L412.68,442.11 L416.66,441.50 L420.64,440.88 L424.63,440.25 L428.61,439.62 L432.59,438.98 L436.57,438.33 L440.56,437.67 L444.54,437.01 L448.52,436.34 L452.51,435.66 L456.49,434.97 L460.47,434.28 L464.45,433.58 L468.44,432.88 L472.42,432.16 L476.40,431.44 L480.39,430.71 L484.37,429.97 L488.35,429.23 L492.33,428.48 L496.32,427.72 L500.30,426.95 L504.28,426.18 L508.27,425.40 L512.25,424.61 L516.23,423.82 L520.21,423.02 L524.20,422.21 L528.18,421.39 L532.16,420.56 L536.15,419.73 L540.13,418.89 L544.11,418.05 L548.09,417.19 L552.08,416.33 L556.06,415.46 L560.04,414.59 L564.03,413.71 L568.01,412.82 L571.99,411.92 L575.97,411.01 L579.96,410.10 L583.94,409.18 L587.92,408.25 L591.91,407.32 L595.89,406.38 L599.87,405.43 L603.85,404.47 L607.84,403.51 L611.82,402.54 L615.80,401.56 L619.79,400.57 L623.77,399.58 L627.75,398.58 L631.73,397.57 L635.72,396.56 L639.70,395.54" stroke="#f2f2f2" stroke-width="1.25" fill="none" stroke-dasharray="5.1 4.7"/>
<path d="M82.1,433.8 C101.75,433.77 163.68,433.72 200.00,433.60 C236.32,433.48 276.67,433.23 300.00,433.10 C323.33,432.97 326.67,432.97 340.00,432.80 C353.33,432.63 371.38,432.38 380.00,432.10 C388.62,431.82 387.80,431.57 391.70,431.10 C395.60,430.63 400.48,429.90 403.40,429.30 C406.32,428.70 407.27,428.18 409.20,427.50 C411.13,426.82 412.57,426.55 415.00,425.20 C417.43,423.85 420.87,421.50 423.80,419.40 C426.73,417.30 429.68,415.03 432.60,412.60 C435.52,410.17 438.38,407.32 441.30,404.80 C444.22,402.28 447.67,399.42 450.10,397.50 C452.53,395.58 453.95,394.57 455.90,393.30 C457.85,392.03 459.85,390.93 461.80,389.90 C463.75,388.87 465.67,387.85 467.60,387.10 C469.53,386.35 471.45,385.80 473.40,385.40 C475.35,385.00 477.45,384.73 479.30,384.70 C481.15,384.67 482.55,384.83 484.50,385.20 C486.45,385.57 488.92,386.18 491.00,386.90 C493.08,387.62 494.30,387.92 497.00,389.50 C499.70,391.08 503.55,393.85 507.20,396.40 C510.85,398.95 515.00,402.07 518.90,404.80 C522.80,407.53 526.95,410.48 530.60,412.80 C534.25,415.12 537.40,416.90 540.80,418.70 C544.20,420.50 547.35,422.12 551.00,423.60 C554.65,425.08 559.55,426.63 562.70,427.60 C565.85,428.57 567.03,428.80 569.90,429.40 C572.77,430.00 575.35,430.77 579.90,431.20 C584.45,431.63 591.22,431.92 597.20,432.00 C603.18,432.08 608.77,431.90 615.80,431.70 C622.83,431.50 635.47,430.95 639.40,430.80" stroke="#f01e16" stroke-width="1.4" fill="none"/>
<rect x="81.89999999999999" y="384.40000000000003" width="558.00" height="99.10" fill="none" stroke="#888" stroke-width="0.5"/>
<line x1="480.39" y1="384.6" x2="480.39" y2="483.3" stroke="#cccc34" stroke-width="1.2" stroke-dasharray="3.9 3.4"/>
<line x1="461.6" y1="460" x2="461.6" y2="440" stroke="#e8e840" stroke-width="1"/>
<path d="M459.8,441 L461.6,436.8 L463.4,441 z" fill="#e8e840"/>
<text transform="translate(397.8,472.9) scale(1,1.07)" font-size="15" fill="#e4e444"><tspan font-style="italic">z</tspan><tspan font-size="10.5" dy="3">c</tspan><tspan dy="-3">=9.5530cm</tspan></text>
<text transform="translate(483.3,472.9) scale(1,1.07)" font-size="15" fill="#e4e444"><tspan font-style="italic">f</tspan>=10.034cm</text>
<text transform="translate(78.00,389.50) scale(1,1.06)" font-size="12" text-anchor="end" fill="#1a1a1a" >0.6</text>
<text transform="translate(78.00,414.18) scale(1,1.06)" font-size="12" text-anchor="end" fill="#1a1a1a" >0.3</text>
<text transform="translate(78.00,438.85) scale(1,1.06)" font-size="12" text-anchor="end" fill="#1a1a1a" >0</text>
<text transform="translate(78.00,463.52) scale(1,1.06)" font-size="12" text-anchor="end" fill="#1a1a1a" >-0.3</text>
<text transform="translate(78.00,488.20) scale(1,1.06)" font-size="12" text-anchor="end" fill="#1a1a1a" >-0.6</text>
<text transform="translate(82.10,498.50) scale(1,1.06)" font-size="12" text-anchor="middle" fill="#1a1a1a" >0</text>
<text transform="translate(161.76,498.50) scale(1,1.06)" font-size="12" text-anchor="middle" fill="#1a1a1a" >2</text>
<text transform="translate(241.41,498.50) scale(1,1.06)" font-size="12" text-anchor="middle" fill="#1a1a1a" >4</text>
<text transform="translate(321.07,498.50) scale(1,1.06)" font-size="12" text-anchor="middle" fill="#1a1a1a" >6</text>
<text transform="translate(400.73,498.50) scale(1,1.06)" font-size="12" text-anchor="middle" fill="#1a1a1a" >8</text>
<text transform="translate(480.39,498.50) scale(1,1.06)" font-size="12" text-anchor="middle" fill="#1a1a1a" >10</text>
<text transform="translate(560.04,498.50) scale(1,1.06)" font-size="12" text-anchor="middle" fill="#1a1a1a" >12</text>
<text transform="translate(639.70,498.50) scale(1,1.06)" font-size="12" text-anchor="middle" fill="#1a1a1a" >14</text>
<text transform="translate(361.50,514.70) scale(1,1.06)" font-size="13.3" text-anchor="middle" fill="#1a1a1a" >z(cm)</text>
<text transform="translate(55.2,434) rotate(-90)" font-size="13.3" text-anchor="middle" fill="#1a1a1a">x(mm)</text>
</svg></body></html>
